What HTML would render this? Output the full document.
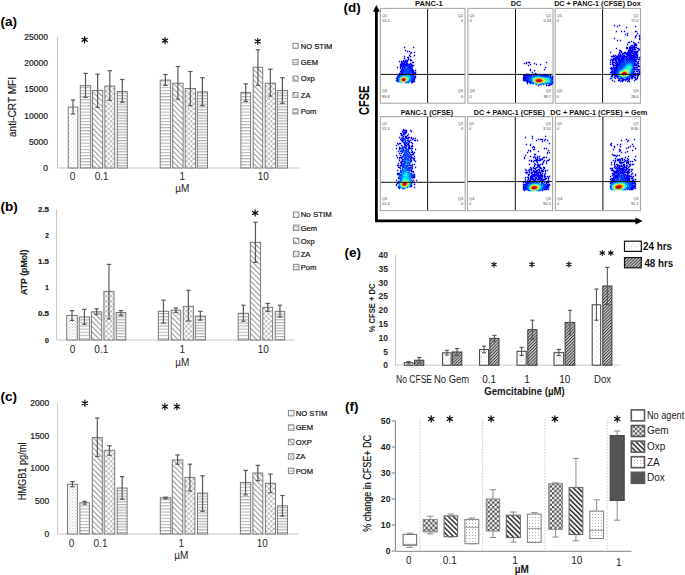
<!DOCTYPE html>
<html><head><meta charset="utf-8"><style>
html,body{margin:0;padding:0;background:#fff;}
svg{display:block;}
text{font-family:"Liberation Sans", sans-serif;}
</style></head><body>
<svg width="685" height="575" viewBox="0 0 685 575">
<rect width="685" height="575" fill="#fff"/>

<defs>
 <pattern id="pdot" width="4" height="4" patternUnits="userSpaceOnUse">
  <rect width="4" height="4" fill="#fff"/><rect x="1" y="1" width="1" height="1" fill="#d0d0d0"/><rect x="3" y="3" width="1" height="1" fill="#e0e0e0"/>
 </pattern>
 <pattern id="pmesh" width="3" height="3" patternUnits="userSpaceOnUse">
  <rect width="3" height="3" fill="#fff"/><rect x="0" y="0" width="1" height="1" fill="#c8c8c8"/><rect x="1.5" y="1.5" width="1" height="1" fill="#c8c8c8"/>
 </pattern>
 <pattern id="phs" width="4" height="3.1" patternUnits="userSpaceOnUse">
  <rect width="4" height="3.1" fill="#fff"/><rect x="0" y="0" width="4" height="1.1" fill="#b4b4b4"/>
 </pattern>
 <pattern id="phs2" width="4" height="2.8" patternUnits="userSpaceOnUse">
  <rect width="4" height="2.8" fill="#fff"/><rect x="0" y="0" width="4" height="1.2" fill="#b0b0b0"/>
 </pattern>
 <pattern id="pdiag" width="3.7" height="3.7" patternUnits="userSpaceOnUse" patternTransform="rotate(-45)">
  <rect width="3.7" height="3.7" fill="#fff"/><rect x="0" y="0" width="1.1" height="3.7" fill="#9a9a9a"/>
 </pattern>
 <pattern id="pchk" width="5" height="5" patternUnits="userSpaceOnUse">
  <rect width="5" height="5" fill="#fff"/><rect x="0" y="0" width="2.5" height="2.5" fill="#c4c4c4"/><rect x="2.5" y="2.5" width="2.5" height="2.5" fill="#c4c4c4"/>
 </pattern>
 <pattern id="pe24" width="5" height="5" patternUnits="userSpaceOnUse">
  <rect width="5" height="5" fill="#fff"/><rect x="1" y="1" width="1" height="1" fill="#c8c8c8"/><rect x="3.5" y="3.5" width="1" height="1" fill="#d8d8d8"/>
 </pattern>
 <pattern id="pe48" width="2.2" height="2.2" patternUnits="userSpaceOnUse" patternTransform="rotate(45)">
  <rect width="2.2" height="2.2" fill="#d0d0d0"/><rect x="0" y="0" width="0.95" height="2.2" fill="#383838"/>
 </pattern>
 <pattern id="pfgem" width="4.6" height="4.6" patternUnits="userSpaceOnUse">
  <rect width="4.6" height="4.6" fill="#fff"/><rect x="0" y="0" width="2.3" height="2.3" fill="#505050"/><rect x="2.3" y="2.3" width="2.3" height="2.3" fill="#505050"/>
 </pattern>
 <pattern id="pfoxp" width="3.5" height="3.5" patternUnits="userSpaceOnUse" patternTransform="rotate(-45)">
  <rect width="3.5" height="3.5" fill="#fff"/><rect x="0" y="0" width="1.5" height="3.5" fill="#2a2a2a"/>
 </pattern>
 <pattern id="pfza" width="3" height="3" patternUnits="userSpaceOnUse">
  <rect width="3" height="3" fill="#fff"/><rect x="1" y="1" width="1" height="1" fill="#b0b0b0"/>
 </pattern>
</defs>

<line x1="57.50" y1="36.80" x2="57.50" y2="168.00" stroke="#c6c6c6" stroke-width="1"/><line x1="57.50" y1="168.00" x2="299.00" y2="168.00" stroke="#c6c6c6" stroke-width="1"/><text x="48.00" y="171.00" font-size="8.5" text-anchor="end" fill="#1a1a1a" stroke="#1a1a1a" stroke-width="0.2">0</text><text x="48.00" y="144.76" font-size="8.5" text-anchor="end" fill="#1a1a1a" stroke="#1a1a1a" stroke-width="0.2">5000</text><text x="48.00" y="118.52" font-size="8.5" text-anchor="end" fill="#1a1a1a" stroke="#1a1a1a" stroke-width="0.2">10000</text><text x="48.00" y="92.28" font-size="8.5" text-anchor="end" fill="#1a1a1a" stroke="#1a1a1a" stroke-width="0.2">15000</text><text x="48.00" y="66.04" font-size="8.5" text-anchor="end" fill="#1a1a1a" stroke="#1a1a1a" stroke-width="0.2">20000</text><text x="48.00" y="39.80" font-size="8.5" text-anchor="end" fill="#1a1a1a" stroke="#1a1a1a" stroke-width="0.2">25000</text><rect x="68.20" y="107.10" width="9.60" height="60.90" fill="url(#pdot)" stroke="#7a7a7a" stroke-width="1"/><rect x="80.30" y="85.70" width="10.40" height="82.30" fill="url(#phs)" stroke="#7a7a7a" stroke-width="1"/><rect x="92.50" y="90.40" width="10.20" height="77.60" fill="url(#pdiag)" stroke="#7a7a7a" stroke-width="1"/><rect x="104.90" y="86.00" width="9.80" height="82.00" fill="url(#pchk)" stroke="#7a7a7a" stroke-width="1"/><rect x="117.30" y="91.50" width="10.00" height="76.50" fill="url(#phs2)" stroke="#7a7a7a" stroke-width="1"/><rect x="160.20" y="80.10" width="10.40" height="87.90" fill="url(#phs)" stroke="#7a7a7a" stroke-width="1"/><rect x="172.70" y="83.20" width="10.40" height="84.80" fill="url(#pdiag)" stroke="#7a7a7a" stroke-width="1"/><rect x="185.20" y="88.50" width="10.30" height="79.50" fill="url(#pchk)" stroke="#7a7a7a" stroke-width="1"/><rect x="197.30" y="91.90" width="10.20" height="76.10" fill="url(#phs2)" stroke="#7a7a7a" stroke-width="1"/><rect x="240.90" y="92.40" width="9.70" height="75.60" fill="url(#phs)" stroke="#7a7a7a" stroke-width="1"/><rect x="253.20" y="67.30" width="9.50" height="100.70" fill="url(#pdiag)" stroke="#7a7a7a" stroke-width="1"/><rect x="265.20" y="83.20" width="10.30" height="84.80" fill="url(#pchk)" stroke="#7a7a7a" stroke-width="1"/><rect x="277.30" y="90.50" width="10.20" height="77.50" fill="url(#phs2)" stroke="#7a7a7a" stroke-width="1"/><line x1="73.00" y1="100.00" x2="73.00" y2="113.90" stroke="#595959" stroke-width="1.2"/><line x1="70.80" y1="100.00" x2="75.20" y2="100.00" stroke="#595959" stroke-width="1.2"/><line x1="70.80" y1="113.90" x2="75.20" y2="113.90" stroke="#595959" stroke-width="1.2"/><line x1="85.50" y1="73.40" x2="85.50" y2="97.40" stroke="#595959" stroke-width="1.2"/><line x1="83.30" y1="73.40" x2="87.70" y2="73.40" stroke="#595959" stroke-width="1.2"/><line x1="83.30" y1="97.40" x2="87.70" y2="97.40" stroke="#595959" stroke-width="1.2"/><line x1="97.60" y1="74.20" x2="97.60" y2="107.30" stroke="#595959" stroke-width="1.2"/><line x1="95.40" y1="74.20" x2="99.80" y2="74.20" stroke="#595959" stroke-width="1.2"/><line x1="95.40" y1="107.30" x2="99.80" y2="107.30" stroke="#595959" stroke-width="1.2"/><line x1="109.80" y1="70.70" x2="109.80" y2="100.30" stroke="#595959" stroke-width="1.2"/><line x1="107.60" y1="70.70" x2="112.00" y2="70.70" stroke="#595959" stroke-width="1.2"/><line x1="107.60" y1="100.30" x2="112.00" y2="100.30" stroke="#595959" stroke-width="1.2"/><line x1="122.30" y1="79.50" x2="122.30" y2="102.20" stroke="#595959" stroke-width="1.2"/><line x1="120.10" y1="79.50" x2="124.50" y2="79.50" stroke="#595959" stroke-width="1.2"/><line x1="120.10" y1="102.20" x2="124.50" y2="102.20" stroke="#595959" stroke-width="1.2"/><line x1="165.40" y1="74.50" x2="165.40" y2="85.40" stroke="#595959" stroke-width="1.2"/><line x1="163.20" y1="74.50" x2="167.60" y2="74.50" stroke="#595959" stroke-width="1.2"/><line x1="163.20" y1="85.40" x2="167.60" y2="85.40" stroke="#595959" stroke-width="1.2"/><line x1="177.90" y1="66.50" x2="177.90" y2="99.20" stroke="#595959" stroke-width="1.2"/><line x1="175.70" y1="66.50" x2="180.10" y2="66.50" stroke="#595959" stroke-width="1.2"/><line x1="175.70" y1="99.20" x2="180.10" y2="99.20" stroke="#595959" stroke-width="1.2"/><line x1="190.35" y1="71.50" x2="190.35" y2="105.60" stroke="#595959" stroke-width="1.2"/><line x1="188.15" y1="71.50" x2="192.55" y2="71.50" stroke="#595959" stroke-width="1.2"/><line x1="188.15" y1="105.60" x2="192.55" y2="105.60" stroke="#595959" stroke-width="1.2"/><line x1="202.40" y1="77.70" x2="202.40" y2="105.60" stroke="#595959" stroke-width="1.2"/><line x1="200.20" y1="77.70" x2="204.60" y2="77.70" stroke="#595959" stroke-width="1.2"/><line x1="200.20" y1="105.60" x2="204.60" y2="105.60" stroke="#595959" stroke-width="1.2"/><line x1="245.75" y1="83.90" x2="245.75" y2="101.40" stroke="#595959" stroke-width="1.2"/><line x1="243.55" y1="83.90" x2="247.95" y2="83.90" stroke="#595959" stroke-width="1.2"/><line x1="243.55" y1="101.40" x2="247.95" y2="101.40" stroke="#595959" stroke-width="1.2"/><line x1="257.95" y1="49.80" x2="257.95" y2="85.30" stroke="#595959" stroke-width="1.2"/><line x1="255.75" y1="49.80" x2="260.15" y2="49.80" stroke="#595959" stroke-width="1.2"/><line x1="255.75" y1="85.30" x2="260.15" y2="85.30" stroke="#595959" stroke-width="1.2"/><line x1="270.35" y1="69.20" x2="270.35" y2="96.10" stroke="#595959" stroke-width="1.2"/><line x1="268.15" y1="69.20" x2="272.55" y2="69.20" stroke="#595959" stroke-width="1.2"/><line x1="268.15" y1="96.10" x2="272.55" y2="96.10" stroke="#595959" stroke-width="1.2"/><line x1="282.40" y1="77.70" x2="282.40" y2="103.30" stroke="#595959" stroke-width="1.2"/><line x1="280.20" y1="77.70" x2="284.60" y2="77.70" stroke="#595959" stroke-width="1.2"/><line x1="280.20" y1="103.30" x2="284.60" y2="103.30" stroke="#595959" stroke-width="1.2"/><path d="M84.60 42.90L84.60 36.70M81.92 41.35L87.28 38.25M87.28 41.35L81.92 38.25" stroke="#000" stroke-width="1.15" stroke-linecap="round" fill="none"/><path d="M165.00 43.70L165.00 37.50M162.32 42.15L167.68 39.05M167.68 42.15L162.32 39.05" stroke="#000" stroke-width="1.15" stroke-linecap="round" fill="none"/><path d="M257.80 44.50L257.80 38.30M255.12 42.95L260.48 39.85M260.48 42.95L255.12 39.85" stroke="#000" stroke-width="1.15" stroke-linecap="round" fill="none"/><text x="72.60" y="180.20" font-size="10" text-anchor="middle" fill="#262626">0</text><text x="101.70" y="180.20" font-size="10" text-anchor="middle" fill="#262626">0.1</text><text x="182.20" y="180.20" font-size="10" text-anchor="middle" fill="#262626">1</text><text x="263.20" y="180.20" font-size="10" text-anchor="middle" fill="#262626">10</text><text x="182.20" y="192.00" font-size="10" text-anchor="middle" fill="#262626">µM</text><text x="16.40" y="107.00" font-size="10" text-anchor="middle" fill="#1a1a1a" textLength="60.00" lengthAdjust="spacingAndGlyphs" transform="rotate(-90 16.40 107.00)" stroke="#1a1a1a" stroke-width="0.15">anti-CRT MFI</text><text x="0.50" y="25.80" font-size="13.5" text-anchor="start" fill="#000" font-weight="bold">(a)</text><rect x="293.00" y="43.30" width="5.00" height="5.00" fill="url(#pdot)" stroke="#8a8a8a" stroke-width="1"/><text x="300.80" y="48.54" font-size="7.6" text-anchor="start" fill="#111" textLength="31.50" lengthAdjust="spacingAndGlyphs" stroke="#111" stroke-width="0.2">NO STIM</text><rect x="293.00" y="59.70" width="5.00" height="5.00" fill="url(#phs)" stroke="#8a8a8a" stroke-width="1"/><text x="300.80" y="64.94" font-size="7.6" text-anchor="start" fill="#111" stroke="#111" stroke-width="0.2">GEM</text><rect x="293.00" y="76.10" width="5.00" height="5.00" fill="url(#pdiag)" stroke="#8a8a8a" stroke-width="1"/><text x="300.80" y="81.34" font-size="7.6" text-anchor="start" fill="#111" stroke="#111" stroke-width="0.2">Oxp</text><rect x="293.00" y="92.50" width="5.00" height="5.00" fill="url(#pchk)" stroke="#8a8a8a" stroke-width="1"/><text x="300.80" y="97.74" font-size="7.6" text-anchor="start" fill="#111" stroke="#111" stroke-width="0.2">ZA</text><rect x="293.00" y="108.90" width="5.00" height="5.00" fill="url(#phs2)" stroke="#8a8a8a" stroke-width="1"/><text x="300.80" y="114.14" font-size="7.6" text-anchor="start" fill="#111" stroke="#111" stroke-width="0.2">Pom</text><line x1="56.60" y1="209.40" x2="56.60" y2="340.00" stroke="#c6c6c6" stroke-width="1"/><line x1="56.60" y1="340.00" x2="294.50" y2="340.00" stroke="#c6c6c6" stroke-width="1"/><text x="49.00" y="342.50" font-size="7" text-anchor="end" fill="#1a1a1a" font-weight="bold" stroke="#1a1a1a" stroke-width="0.2">0</text><text x="49.00" y="316.38" font-size="7" text-anchor="end" fill="#1a1a1a" font-weight="bold" textLength="11.00" lengthAdjust="spacingAndGlyphs" stroke="#1a1a1a" stroke-width="0.2">0.5</text><text x="49.00" y="290.26" font-size="7" text-anchor="end" fill="#1a1a1a" font-weight="bold" stroke="#1a1a1a" stroke-width="0.2">1</text><text x="49.00" y="264.14" font-size="7" text-anchor="end" fill="#1a1a1a" font-weight="bold" textLength="11.00" lengthAdjust="spacingAndGlyphs" stroke="#1a1a1a" stroke-width="0.2">1.5</text><text x="49.00" y="238.02" font-size="7" text-anchor="end" fill="#1a1a1a" font-weight="bold" stroke="#1a1a1a" stroke-width="0.2">2</text><text x="49.00" y="211.90" font-size="7" text-anchor="end" fill="#1a1a1a" font-weight="bold" textLength="11.00" lengthAdjust="spacingAndGlyphs" stroke="#1a1a1a" stroke-width="0.2">2.5</text><rect x="66.70" y="315.50" width="10.60" height="24.50" fill="url(#pmesh)" stroke="#7a7a7a" stroke-width="1"/><rect x="79.20" y="317.00" width="10.40" height="23.00" fill="url(#phs)" stroke="#7a7a7a" stroke-width="1"/><rect x="91.40" y="311.80" width="10.30" height="28.20" fill="url(#pdiag)" stroke="#7a7a7a" stroke-width="1"/><rect x="103.90" y="291.40" width="10.10" height="48.60" fill="url(#pchk)" stroke="#7a7a7a" stroke-width="1"/><rect x="116.20" y="312.50" width="9.60" height="27.50" fill="url(#phs2)" stroke="#7a7a7a" stroke-width="1"/><rect x="158.30" y="311.30" width="10.30" height="28.70" fill="url(#phs)" stroke="#7a7a7a" stroke-width="1"/><rect x="171.20" y="310.20" width="9.50" height="29.80" fill="url(#pdiag)" stroke="#7a7a7a" stroke-width="1"/><rect x="183.30" y="306.30" width="10.10" height="33.70" fill="url(#pchk)" stroke="#7a7a7a" stroke-width="1"/><rect x="195.30" y="316.10" width="10.10" height="23.90" fill="url(#phs2)" stroke="#7a7a7a" stroke-width="1"/><rect x="238.20" y="313.30" width="10.30" height="26.70" fill="url(#phs)" stroke="#7a7a7a" stroke-width="1"/><rect x="250.30" y="242.30" width="10.30" height="97.70" fill="url(#pdiag)" stroke="#7a7a7a" stroke-width="1"/><rect x="262.80" y="307.40" width="9.80" height="32.60" fill="url(#pchk)" stroke="#7a7a7a" stroke-width="1"/><rect x="275.20" y="311.30" width="9.50" height="28.70" fill="url(#phs2)" stroke="#7a7a7a" stroke-width="1"/><line x1="72.00" y1="310.60" x2="72.00" y2="320.40" stroke="#595959" stroke-width="1.2"/><line x1="69.80" y1="310.60" x2="74.20" y2="310.60" stroke="#595959" stroke-width="1.2"/><line x1="69.80" y1="320.40" x2="74.20" y2="320.40" stroke="#595959" stroke-width="1.2"/><line x1="84.40" y1="309.30" x2="84.40" y2="324.30" stroke="#595959" stroke-width="1.2"/><line x1="82.20" y1="309.30" x2="86.60" y2="309.30" stroke="#595959" stroke-width="1.2"/><line x1="82.20" y1="324.30" x2="86.60" y2="324.30" stroke="#595959" stroke-width="1.2"/><line x1="96.55" y1="308.80" x2="96.55" y2="314.30" stroke="#595959" stroke-width="1.2"/><line x1="94.35" y1="308.80" x2="98.75" y2="308.80" stroke="#595959" stroke-width="1.2"/><line x1="94.35" y1="314.30" x2="98.75" y2="314.30" stroke="#595959" stroke-width="1.2"/><line x1="108.95" y1="264.40" x2="108.95" y2="318.90" stroke="#595959" stroke-width="1.2"/><line x1="106.75" y1="264.40" x2="111.15" y2="264.40" stroke="#595959" stroke-width="1.2"/><line x1="106.75" y1="318.90" x2="111.15" y2="318.90" stroke="#595959" stroke-width="1.2"/><line x1="121.00" y1="310.60" x2="121.00" y2="315.50" stroke="#595959" stroke-width="1.2"/><line x1="118.80" y1="310.60" x2="123.20" y2="310.60" stroke="#595959" stroke-width="1.2"/><line x1="118.80" y1="315.50" x2="123.20" y2="315.50" stroke="#595959" stroke-width="1.2"/><line x1="163.45" y1="300.10" x2="163.45" y2="323.10" stroke="#595959" stroke-width="1.2"/><line x1="161.25" y1="300.10" x2="165.65" y2="300.10" stroke="#595959" stroke-width="1.2"/><line x1="161.25" y1="323.10" x2="165.65" y2="323.10" stroke="#595959" stroke-width="1.2"/><line x1="175.95" y1="308.00" x2="175.95" y2="312.40" stroke="#595959" stroke-width="1.2"/><line x1="173.75" y1="308.00" x2="178.15" y2="308.00" stroke="#595959" stroke-width="1.2"/><line x1="173.75" y1="312.40" x2="178.15" y2="312.40" stroke="#595959" stroke-width="1.2"/><line x1="188.35" y1="290.30" x2="188.35" y2="321.00" stroke="#595959" stroke-width="1.2"/><line x1="186.15" y1="290.30" x2="190.55" y2="290.30" stroke="#595959" stroke-width="1.2"/><line x1="186.15" y1="321.00" x2="190.55" y2="321.00" stroke="#595959" stroke-width="1.2"/><line x1="200.35" y1="311.30" x2="200.35" y2="320.10" stroke="#595959" stroke-width="1.2"/><line x1="198.15" y1="311.30" x2="202.55" y2="311.30" stroke="#595959" stroke-width="1.2"/><line x1="198.15" y1="320.10" x2="202.55" y2="320.10" stroke="#595959" stroke-width="1.2"/><line x1="243.35" y1="305.20" x2="243.35" y2="321.20" stroke="#595959" stroke-width="1.2"/><line x1="241.15" y1="305.20" x2="245.55" y2="305.20" stroke="#595959" stroke-width="1.2"/><line x1="241.15" y1="321.20" x2="245.55" y2="321.20" stroke="#595959" stroke-width="1.2"/><line x1="255.45" y1="222.30" x2="255.45" y2="262.40" stroke="#595959" stroke-width="1.2"/><line x1="253.25" y1="222.30" x2="257.65" y2="222.30" stroke="#595959" stroke-width="1.2"/><line x1="253.25" y1="262.40" x2="257.65" y2="262.40" stroke="#595959" stroke-width="1.2"/><line x1="267.70" y1="303.40" x2="267.70" y2="311.30" stroke="#595959" stroke-width="1.2"/><line x1="265.50" y1="303.40" x2="269.90" y2="303.40" stroke="#595959" stroke-width="1.2"/><line x1="265.50" y1="311.30" x2="269.90" y2="311.30" stroke="#595959" stroke-width="1.2"/><line x1="279.95" y1="305.20" x2="279.95" y2="316.80" stroke="#595959" stroke-width="1.2"/><line x1="277.75" y1="305.20" x2="282.15" y2="305.20" stroke="#595959" stroke-width="1.2"/><line x1="277.75" y1="316.80" x2="282.15" y2="316.80" stroke="#595959" stroke-width="1.2"/><path d="M255.10 216.10L255.10 209.90M252.42 214.55L257.78 211.45M257.78 214.55L252.42 211.45" stroke="#000" stroke-width="1.15" stroke-linecap="round" fill="none"/><text x="72.50" y="353.40" font-size="10" text-anchor="middle" fill="#262626">0</text><text x="101.30" y="353.40" font-size="10" text-anchor="middle" fill="#262626">0.1</text><text x="182.20" y="353.40" font-size="10" text-anchor="middle" fill="#262626">1</text><text x="263.20" y="353.40" font-size="10" text-anchor="middle" fill="#262626">10</text><text x="182.20" y="365.80" font-size="10" text-anchor="middle" fill="#262626">µM</text><text x="27.30" y="272.30" font-size="9" text-anchor="middle" fill="#1a1a1a" font-weight="bold" textLength="45.30" lengthAdjust="spacingAndGlyphs" transform="rotate(-90 27.30 272.30)" stroke="#1a1a1a" stroke-width="0.15">ATP (pMol)</text><text x="0.50" y="211.30" font-size="13.5" text-anchor="start" fill="#000" font-weight="bold">(b)</text><rect x="293.40" y="211.95" width="5.50" height="5.50" fill="url(#pmesh)" stroke="#8a8a8a" stroke-width="1"/><text x="300.70" y="217.44" font-size="7.6" text-anchor="start" fill="#111" textLength="31.00" lengthAdjust="spacingAndGlyphs" stroke="#111" stroke-width="0.2">No STIM</text><rect x="293.40" y="225.05" width="5.50" height="5.50" fill="url(#phs)" stroke="#8a8a8a" stroke-width="1"/><text x="300.70" y="230.54" font-size="7.6" text-anchor="start" fill="#111" stroke="#111" stroke-width="0.2">Gem</text><rect x="293.40" y="238.15" width="5.50" height="5.50" fill="url(#pdiag)" stroke="#8a8a8a" stroke-width="1"/><text x="300.70" y="243.64" font-size="7.6" text-anchor="start" fill="#111" stroke="#111" stroke-width="0.2">Oxp</text><rect x="293.40" y="251.25" width="5.50" height="5.50" fill="url(#pchk)" stroke="#8a8a8a" stroke-width="1"/><text x="300.70" y="256.74" font-size="7.6" text-anchor="start" fill="#111" stroke="#111" stroke-width="0.2">ZA</text><rect x="293.40" y="264.35" width="5.50" height="5.50" fill="url(#phs2)" stroke="#8a8a8a" stroke-width="1"/><text x="300.70" y="269.84" font-size="7.6" text-anchor="start" fill="#111" stroke="#111" stroke-width="0.2">Pom</text><line x1="57.60" y1="402.90" x2="57.60" y2="534.00" stroke="#c6c6c6" stroke-width="1"/><line x1="57.60" y1="534.00" x2="298.50" y2="534.00" stroke="#c6c6c6" stroke-width="1"/><text x="49.20" y="537.00" font-size="8.5" text-anchor="end" fill="#1a1a1a" stroke="#1a1a1a" stroke-width="0.2">0</text><text x="49.20" y="504.23" font-size="8.5" text-anchor="end" fill="#1a1a1a" stroke="#1a1a1a" stroke-width="0.2">500</text><text x="49.20" y="471.45" font-size="8.5" text-anchor="end" fill="#1a1a1a" stroke="#1a1a1a" stroke-width="0.2">1000</text><text x="49.20" y="438.67" font-size="8.5" text-anchor="end" fill="#1a1a1a" stroke="#1a1a1a" stroke-width="0.2">1500</text><text x="49.20" y="405.90" font-size="8.5" text-anchor="end" fill="#1a1a1a" stroke="#1a1a1a" stroke-width="0.2">2000</text><rect x="67.50" y="484.30" width="9.90" height="49.70" fill="url(#pmesh)" stroke="#7a7a7a" stroke-width="1"/><rect x="79.90" y="502.70" width="9.50" height="31.30" fill="url(#phs)" stroke="#7a7a7a" stroke-width="1"/><rect x="92.30" y="437.60" width="10.00" height="96.40" fill="url(#pdiag)" stroke="#7a7a7a" stroke-width="1"/><rect x="104.20" y="450.30" width="10.50" height="83.70" fill="url(#pchk)" stroke="#7a7a7a" stroke-width="1"/><rect x="117.20" y="488.00" width="9.90" height="46.00" fill="url(#phs2)" stroke="#7a7a7a" stroke-width="1"/><rect x="160.30" y="497.70" width="10.50" height="36.30" fill="url(#phs)" stroke="#7a7a7a" stroke-width="1"/><rect x="172.30" y="459.90" width="10.50" height="74.10" fill="url(#pdiag)" stroke="#7a7a7a" stroke-width="1"/><rect x="185.00" y="477.40" width="9.90" height="56.60" fill="url(#pchk)" stroke="#7a7a7a" stroke-width="1"/><rect x="197.50" y="493.10" width="10.10" height="40.90" fill="url(#phs2)" stroke="#7a7a7a" stroke-width="1"/><rect x="240.40" y="482.40" width="10.30" height="51.60" fill="url(#phs)" stroke="#7a7a7a" stroke-width="1"/><rect x="252.90" y="473.00" width="9.90" height="61.00" fill="url(#pdiag)" stroke="#7a7a7a" stroke-width="1"/><rect x="265.40" y="483.30" width="10.10" height="50.70" fill="url(#pchk)" stroke="#7a7a7a" stroke-width="1"/><rect x="277.40" y="505.80" width="10.10" height="28.20" fill="url(#phs2)" stroke="#7a7a7a" stroke-width="1"/><line x1="72.45" y1="481.60" x2="72.45" y2="486.80" stroke="#595959" stroke-width="1.2"/><line x1="70.25" y1="481.60" x2="74.65" y2="481.60" stroke="#595959" stroke-width="1.2"/><line x1="70.25" y1="486.80" x2="74.65" y2="486.80" stroke="#595959" stroke-width="1.2"/><line x1="84.65" y1="501.40" x2="84.65" y2="504.20" stroke="#595959" stroke-width="1.2"/><line x1="82.45" y1="501.40" x2="86.85" y2="501.40" stroke="#595959" stroke-width="1.2"/><line x1="82.45" y1="504.20" x2="86.85" y2="504.20" stroke="#595959" stroke-width="1.2"/><line x1="97.30" y1="418.00" x2="97.30" y2="456.50" stroke="#595959" stroke-width="1.2"/><line x1="95.10" y1="418.00" x2="99.50" y2="418.00" stroke="#595959" stroke-width="1.2"/><line x1="95.10" y1="456.50" x2="99.50" y2="456.50" stroke="#595959" stroke-width="1.2"/><line x1="109.45" y1="445.80" x2="109.45" y2="455.20" stroke="#595959" stroke-width="1.2"/><line x1="107.25" y1="445.80" x2="111.65" y2="445.80" stroke="#595959" stroke-width="1.2"/><line x1="107.25" y1="455.20" x2="111.65" y2="455.20" stroke="#595959" stroke-width="1.2"/><line x1="122.15" y1="476.60" x2="122.15" y2="499.20" stroke="#595959" stroke-width="1.2"/><line x1="119.95" y1="476.60" x2="124.35" y2="476.60" stroke="#595959" stroke-width="1.2"/><line x1="119.95" y1="499.20" x2="124.35" y2="499.20" stroke="#595959" stroke-width="1.2"/><line x1="165.55" y1="497.10" x2="165.55" y2="498.60" stroke="#595959" stroke-width="1.2"/><line x1="163.35" y1="497.10" x2="167.75" y2="497.10" stroke="#595959" stroke-width="1.2"/><line x1="163.35" y1="498.60" x2="167.75" y2="498.60" stroke="#595959" stroke-width="1.2"/><line x1="177.55" y1="455.00" x2="177.55" y2="464.20" stroke="#595959" stroke-width="1.2"/><line x1="175.35" y1="455.00" x2="179.75" y2="455.00" stroke="#595959" stroke-width="1.2"/><line x1="175.35" y1="464.20" x2="179.75" y2="464.20" stroke="#595959" stroke-width="1.2"/><line x1="189.95" y1="464.20" x2="189.95" y2="491.00" stroke="#595959" stroke-width="1.2"/><line x1="187.75" y1="464.20" x2="192.15" y2="464.20" stroke="#595959" stroke-width="1.2"/><line x1="187.75" y1="491.00" x2="192.15" y2="491.00" stroke="#595959" stroke-width="1.2"/><line x1="202.55" y1="475.80" x2="202.55" y2="511.30" stroke="#595959" stroke-width="1.2"/><line x1="200.35" y1="475.80" x2="204.75" y2="475.80" stroke="#595959" stroke-width="1.2"/><line x1="200.35" y1="511.30" x2="204.75" y2="511.30" stroke="#595959" stroke-width="1.2"/><line x1="245.55" y1="470.40" x2="245.55" y2="494.90" stroke="#595959" stroke-width="1.2"/><line x1="243.35" y1="470.40" x2="247.75" y2="470.40" stroke="#595959" stroke-width="1.2"/><line x1="243.35" y1="494.90" x2="247.75" y2="494.90" stroke="#595959" stroke-width="1.2"/><line x1="257.85" y1="465.30" x2="257.85" y2="480.70" stroke="#595959" stroke-width="1.2"/><line x1="255.65" y1="465.30" x2="260.05" y2="465.30" stroke="#595959" stroke-width="1.2"/><line x1="255.65" y1="480.70" x2="260.05" y2="480.70" stroke="#595959" stroke-width="1.2"/><line x1="270.45" y1="474.10" x2="270.45" y2="492.70" stroke="#595959" stroke-width="1.2"/><line x1="268.25" y1="474.10" x2="272.65" y2="474.10" stroke="#595959" stroke-width="1.2"/><line x1="268.25" y1="492.70" x2="272.65" y2="492.70" stroke="#595959" stroke-width="1.2"/><line x1="282.45" y1="495.50" x2="282.45" y2="516.10" stroke="#595959" stroke-width="1.2"/><line x1="280.25" y1="495.50" x2="284.65" y2="495.50" stroke="#595959" stroke-width="1.2"/><line x1="280.25" y1="516.10" x2="284.65" y2="516.10" stroke="#595959" stroke-width="1.2"/><path d="M84.90 406.30L84.90 400.10M82.22 404.75L87.58 401.65M87.58 404.75L82.22 401.65" stroke="#000" stroke-width="1.15" stroke-linecap="round" fill="none"/><path d="M164.90 409.70L164.90 403.50M162.22 408.15L167.58 405.05M167.58 408.15L162.22 405.05" stroke="#000" stroke-width="1.15" stroke-linecap="round" fill="none"/><path d="M176.90 409.70L176.90 403.50M174.22 408.15L179.58 405.05M179.58 408.15L174.22 405.05" stroke="#000" stroke-width="1.15" stroke-linecap="round" fill="none"/><text x="71.50" y="546.60" font-size="10" text-anchor="middle" fill="#262626">0</text><text x="100.50" y="546.60" font-size="10" text-anchor="middle" fill="#262626">0.1</text><text x="181.30" y="546.60" font-size="10" text-anchor="middle" fill="#262626">1</text><text x="262.30" y="546.60" font-size="10" text-anchor="middle" fill="#262626">10</text><text x="181.30" y="559.30" font-size="10" text-anchor="middle" fill="#262626">µM</text><text x="26.00" y="471.40" font-size="10" text-anchor="middle" fill="#1a1a1a" textLength="57.80" lengthAdjust="spacingAndGlyphs" transform="rotate(-90 26.00 471.40)" stroke="#1a1a1a" stroke-width="0.15">HMGB1 pg/ml</text><text x="0.50" y="401.30" font-size="13.5" text-anchor="start" fill="#000" font-weight="bold">(c)</text><rect x="288.40" y="410.35" width="5.50" height="5.50" fill="url(#pmesh)" stroke="#8a8a8a" stroke-width="1"/><text x="295.70" y="415.84" font-size="7.6" text-anchor="start" fill="#111" textLength="31.60" lengthAdjust="spacingAndGlyphs" stroke="#111" stroke-width="0.2">NO STIM</text><rect x="288.40" y="424.80" width="5.50" height="5.50" fill="url(#phs)" stroke="#8a8a8a" stroke-width="1"/><text x="295.70" y="430.29" font-size="7.6" text-anchor="start" fill="#111" stroke="#111" stroke-width="0.2">GEM</text><rect x="288.40" y="439.25" width="5.50" height="5.50" fill="url(#pdiag)" stroke="#8a8a8a" stroke-width="1"/><text x="295.70" y="444.74" font-size="7.6" text-anchor="start" fill="#111" stroke="#111" stroke-width="0.2">OXP</text><rect x="288.40" y="453.70" width="5.50" height="5.50" fill="url(#pchk)" stroke="#8a8a8a" stroke-width="1"/><text x="295.70" y="459.19" font-size="7.6" text-anchor="start" fill="#111" stroke="#111" stroke-width="0.2">ZA</text><rect x="288.40" y="468.15" width="5.50" height="5.50" fill="url(#phs2)" stroke="#8a8a8a" stroke-width="1"/><text x="295.70" y="473.64" font-size="7.6" text-anchor="start" fill="#111" stroke="#111" stroke-width="0.2">POM</text><line x1="395.60" y1="254.80" x2="395.60" y2="365.20" stroke="#c6c6c6" stroke-width="1"/><line x1="395.60" y1="365.20" x2="620.20" y2="365.20" stroke="#d4d4d4" stroke-width="1.2"/><text x="388.00" y="368.30" font-size="8.5" text-anchor="end" fill="#262626" font-weight="bold">0</text><text x="388.00" y="354.50" font-size="8.5" text-anchor="end" fill="#262626" font-weight="bold">5</text><text x="388.00" y="340.70" font-size="8.5" text-anchor="end" fill="#262626" font-weight="bold">10</text><text x="388.00" y="326.90" font-size="8.5" text-anchor="end" fill="#262626" font-weight="bold">15</text><text x="388.00" y="313.10" font-size="8.5" text-anchor="end" fill="#262626" font-weight="bold">20</text><text x="388.00" y="299.30" font-size="8.5" text-anchor="end" fill="#262626" font-weight="bold">25</text><text x="388.00" y="285.50" font-size="8.5" text-anchor="end" fill="#262626" font-weight="bold">30</text><text x="388.00" y="271.70" font-size="8.5" text-anchor="end" fill="#262626" font-weight="bold">35</text><text x="388.00" y="257.90" font-size="8.5" text-anchor="end" fill="#262626" font-weight="bold">40</text><rect x="404.20" y="362.70" width="8.70" height="2.50" fill="url(#pe24)" stroke="#3a3a3a" stroke-width="1"/><rect x="414.60" y="360.20" width="9.20" height="5.00" fill="url(#pe48)" stroke="#3a3a3a" stroke-width="1"/><rect x="442.60" y="352.80" width="8.50" height="12.40" fill="url(#pe24)" stroke="#3a3a3a" stroke-width="1"/><rect x="452.30" y="352.00" width="9.50" height="13.20" fill="url(#pe48)" stroke="#3a3a3a" stroke-width="1"/><rect x="479.60" y="349.60" width="9.00" height="15.60" fill="url(#pe24)" stroke="#3a3a3a" stroke-width="1"/><rect x="489.80" y="338.40" width="9.20" height="26.80" fill="url(#pe48)" stroke="#3a3a3a" stroke-width="1"/><rect x="517.00" y="351.30" width="9.20" height="13.90" fill="url(#pe24)" stroke="#3a3a3a" stroke-width="1"/><rect x="527.80" y="329.70" width="9.20" height="35.50" fill="url(#pe48)" stroke="#3a3a3a" stroke-width="1"/><rect x="554.00" y="352.70" width="9.70" height="12.50" fill="url(#pe24)" stroke="#3a3a3a" stroke-width="1"/><rect x="565.10" y="322.40" width="9.70" height="42.80" fill="url(#pe48)" stroke="#3a3a3a" stroke-width="1"/><rect x="592.20" y="304.80" width="8.50" height="60.40" fill="url(#pe24)" stroke="#3a3a3a" stroke-width="1"/><rect x="602.80" y="286.00" width="9.10" height="79.20" fill="url(#pe48)" stroke="#3a3a3a" stroke-width="1"/><line x1="408.55" y1="361.50" x2="408.55" y2="363.90" stroke="#555" stroke-width="1.1"/><line x1="406.45" y1="361.50" x2="410.65" y2="361.50" stroke="#555" stroke-width="1.1"/><line x1="406.45" y1="363.90" x2="410.65" y2="363.90" stroke="#555" stroke-width="1.1"/><line x1="419.20" y1="357.50" x2="419.20" y2="362.90" stroke="#555" stroke-width="1.1"/><line x1="417.10" y1="357.50" x2="421.30" y2="357.50" stroke="#555" stroke-width="1.1"/><line x1="417.10" y1="362.90" x2="421.30" y2="362.90" stroke="#555" stroke-width="1.1"/><line x1="446.85" y1="350.30" x2="446.85" y2="355.00" stroke="#555" stroke-width="1.1"/><line x1="444.75" y1="350.30" x2="448.95" y2="350.30" stroke="#555" stroke-width="1.1"/><line x1="444.75" y1="355.00" x2="448.95" y2="355.00" stroke="#555" stroke-width="1.1"/><line x1="457.05" y1="348.60" x2="457.05" y2="355.40" stroke="#555" stroke-width="1.1"/><line x1="454.95" y1="348.60" x2="459.15" y2="348.60" stroke="#555" stroke-width="1.1"/><line x1="454.95" y1="355.40" x2="459.15" y2="355.40" stroke="#555" stroke-width="1.1"/><line x1="484.10" y1="346.10" x2="484.10" y2="352.80" stroke="#555" stroke-width="1.1"/><line x1="482.00" y1="346.10" x2="486.20" y2="346.10" stroke="#555" stroke-width="1.1"/><line x1="482.00" y1="352.80" x2="486.20" y2="352.80" stroke="#555" stroke-width="1.1"/><line x1="494.40" y1="335.40" x2="494.40" y2="341.40" stroke="#555" stroke-width="1.1"/><line x1="492.30" y1="335.40" x2="496.50" y2="335.40" stroke="#555" stroke-width="1.1"/><line x1="492.30" y1="341.40" x2="496.50" y2="341.40" stroke="#555" stroke-width="1.1"/><line x1="521.60" y1="347.30" x2="521.60" y2="355.40" stroke="#555" stroke-width="1.1"/><line x1="519.50" y1="347.30" x2="523.70" y2="347.30" stroke="#555" stroke-width="1.1"/><line x1="519.50" y1="355.40" x2="523.70" y2="355.40" stroke="#555" stroke-width="1.1"/><line x1="532.40" y1="320.20" x2="532.40" y2="339.10" stroke="#555" stroke-width="1.1"/><line x1="530.30" y1="320.20" x2="534.50" y2="320.20" stroke="#555" stroke-width="1.1"/><line x1="530.30" y1="339.10" x2="534.50" y2="339.10" stroke="#555" stroke-width="1.1"/><line x1="558.85" y1="349.40" x2="558.85" y2="355.60" stroke="#555" stroke-width="1.1"/><line x1="556.75" y1="349.40" x2="560.95" y2="349.40" stroke="#555" stroke-width="1.1"/><line x1="556.75" y1="355.60" x2="560.95" y2="355.60" stroke="#555" stroke-width="1.1"/><line x1="569.95" y1="310.30" x2="569.95" y2="334.60" stroke="#555" stroke-width="1.1"/><line x1="567.85" y1="310.30" x2="572.05" y2="310.30" stroke="#555" stroke-width="1.1"/><line x1="567.85" y1="334.60" x2="572.05" y2="334.60" stroke="#555" stroke-width="1.1"/><line x1="596.45" y1="289.00" x2="596.45" y2="320.20" stroke="#555" stroke-width="1.1"/><line x1="594.35" y1="289.00" x2="598.55" y2="289.00" stroke="#555" stroke-width="1.1"/><line x1="594.35" y1="320.20" x2="598.55" y2="320.20" stroke="#555" stroke-width="1.1"/><line x1="607.35" y1="267.40" x2="607.35" y2="304.60" stroke="#555" stroke-width="1.1"/><line x1="605.25" y1="267.40" x2="609.45" y2="267.40" stroke="#555" stroke-width="1.1"/><line x1="605.25" y1="304.60" x2="609.45" y2="304.60" stroke="#555" stroke-width="1.1"/><path d="M494.00 267.20L494.00 262.00M491.75 265.90L496.25 263.30M496.25 265.90L491.75 263.30" stroke="#000" stroke-width="1.05" stroke-linecap="round" fill="none"/><path d="M531.90 267.00L531.90 261.80M529.65 265.70L534.15 263.10M534.15 265.70L529.65 263.10" stroke="#000" stroke-width="1.05" stroke-linecap="round" fill="none"/><path d="M568.90 267.00L568.90 261.80M566.65 265.70L571.15 263.10M571.15 265.70L566.65 263.10" stroke="#000" stroke-width="1.05" stroke-linecap="round" fill="none"/><path d="M602.30 255.60L602.30 250.40M600.05 254.30L604.55 251.70M604.55 254.30L600.05 251.70" stroke="#000" stroke-width="1.05" stroke-linecap="round" fill="none"/><path d="M610.80 255.60L610.80 250.40M608.55 254.30L613.05 251.70M613.05 254.30L608.55 251.70" stroke="#000" stroke-width="1.05" stroke-linecap="round" fill="none"/><text x="414.00" y="383.00" font-size="10" text-anchor="middle" fill="#1a1a1a" textLength="36.00" lengthAdjust="spacingAndGlyphs">No CFSE</text><text x="451.60" y="383.00" font-size="10" text-anchor="middle" fill="#1a1a1a" textLength="35.20" lengthAdjust="spacingAndGlyphs">No Gem</text><text x="489.10" y="383.00" font-size="10" text-anchor="middle" fill="#1a1a1a">0.1</text><text x="527.00" y="383.00" font-size="10" text-anchor="middle" fill="#1a1a1a">1</text><text x="564.80" y="383.00" font-size="10" text-anchor="middle" fill="#1a1a1a">10</text><text x="602.60" y="383.00" font-size="10" text-anchor="middle" fill="#1a1a1a" textLength="17.00" lengthAdjust="spacingAndGlyphs">Dox</text><text x="524.50" y="395.40" font-size="10" text-anchor="middle" fill="#1a1a1a" font-weight="bold" textLength="80.50" lengthAdjust="spacingAndGlyphs">Gemcitabine (µM)</text><text x="374.60" y="307.90" font-size="9.5" text-anchor="middle" fill="#1a1a1a" font-weight="bold" textLength="48.70" lengthAdjust="spacingAndGlyphs" transform="rotate(-90 374.60 307.90)">% CFSE + DC</text><text x="344.50" y="256.50" font-size="13.5" text-anchor="start" fill="#000" font-weight="bold">(e)</text><rect x="624.50" y="241.20" width="16.80" height="10.20" fill="url(#pe24)" stroke="#111" stroke-width="1.2"/><rect x="624.50" y="257.60" width="16.80" height="10.20" fill="url(#pe48)" stroke="#111" stroke-width="1.2"/><text x="643.00" y="249.70" font-size="11" text-anchor="start" fill="#111" font-weight="bold" textLength="29.00" lengthAdjust="spacingAndGlyphs">24 hrs</text><text x="644.40" y="267.40" font-size="11" text-anchor="start" fill="#111" font-weight="bold" textLength="28.70" lengthAdjust="spacingAndGlyphs">48 hrs</text><line x1="395.40" y1="421.00" x2="395.40" y2="551.00" stroke="#8a8a8a" stroke-width="1.1"/><line x1="395.40" y1="551.40" x2="631.50" y2="551.40" stroke="#9a9a9a" stroke-width="1.4"/><line x1="391.80" y1="551.00" x2="395.40" y2="551.00" stroke="#8a8a8a" stroke-width="1.1"/><text x="390.50" y="554.10" font-size="8.7" text-anchor="end" fill="#1a1a1a" font-weight="bold">0</text><line x1="391.80" y1="525.00" x2="395.40" y2="525.00" stroke="#8a8a8a" stroke-width="1.1"/><text x="390.50" y="528.10" font-size="8.7" text-anchor="end" fill="#1a1a1a" font-weight="bold">10</text><line x1="391.80" y1="499.00" x2="395.40" y2="499.00" stroke="#8a8a8a" stroke-width="1.1"/><text x="390.50" y="502.10" font-size="8.7" text-anchor="end" fill="#1a1a1a" font-weight="bold">20</text><line x1="391.80" y1="473.00" x2="395.40" y2="473.00" stroke="#8a8a8a" stroke-width="1.1"/><text x="390.50" y="476.10" font-size="8.7" text-anchor="end" fill="#1a1a1a" font-weight="bold">30</text><line x1="391.80" y1="447.00" x2="395.40" y2="447.00" stroke="#8a8a8a" stroke-width="1.1"/><text x="390.50" y="450.10" font-size="8.7" text-anchor="end" fill="#1a1a1a" font-weight="bold">40</text><line x1="391.80" y1="421.00" x2="395.40" y2="421.00" stroke="#8a8a8a" stroke-width="1.1"/><text x="390.50" y="424.10" font-size="8.7" text-anchor="end" fill="#1a1a1a" font-weight="bold">50</text><line x1="420.00" y1="419.00" x2="420.00" y2="551.00" stroke="#bdbdbd" stroke-width="0.8" stroke-dasharray="1.5 1.5"/><line x1="482.60" y1="419.00" x2="482.60" y2="551.00" stroke="#bdbdbd" stroke-width="0.8" stroke-dasharray="1.5 1.5"/><line x1="545.00" y1="419.00" x2="545.00" y2="551.00" stroke="#bdbdbd" stroke-width="0.8" stroke-dasharray="1.5 1.5"/><line x1="607.10" y1="419.00" x2="607.10" y2="551.00" stroke="#bdbdbd" stroke-width="0.8" stroke-dasharray="1.5 1.5"/><line x1="409.85" y1="533.20" x2="409.85" y2="534.40" stroke="#8c8c8c" stroke-width="1.0"/><line x1="409.85" y1="545.30" x2="409.85" y2="547.40" stroke="#8c8c8c" stroke-width="1.0"/><line x1="406.65" y1="533.20" x2="413.05" y2="533.20" stroke="#8c8c8c" stroke-width="1.0"/><line x1="406.65" y1="547.40" x2="413.05" y2="547.40" stroke="#8c8c8c" stroke-width="1.0"/><rect x="403.10" y="534.40" width="13.50" height="10.90" fill="#fff" stroke="#777" stroke-width="1.1"/><line x1="403.10" y1="544.40" x2="416.60" y2="544.40" stroke="#888" stroke-width="0.9"/><line x1="430.20" y1="516.20" x2="430.20" y2="519.50" stroke="#8c8c8c" stroke-width="1.0"/><line x1="430.20" y1="531.90" x2="430.20" y2="533.80" stroke="#8c8c8c" stroke-width="1.0"/><line x1="427.00" y1="516.20" x2="433.40" y2="516.20" stroke="#8c8c8c" stroke-width="1.0"/><line x1="427.00" y1="533.80" x2="433.40" y2="533.80" stroke="#8c8c8c" stroke-width="1.0"/><rect x="423.20" y="519.50" width="14.00" height="12.40" fill="url(#pfgem)" stroke="#8a8a8a" stroke-width="1.1"/><line x1="423.20" y1="529.90" x2="437.20" y2="529.90" stroke="#888" stroke-width="0.9"/><line x1="450.85" y1="514.00" x2="450.85" y2="515.90" stroke="#8c8c8c" stroke-width="1.0"/><line x1="450.85" y1="536.60" x2="450.85" y2="537.00" stroke="#8c8c8c" stroke-width="1.0"/><line x1="447.65" y1="514.00" x2="454.05" y2="514.00" stroke="#8c8c8c" stroke-width="1.0"/><line x1="447.65" y1="537.00" x2="454.05" y2="537.00" stroke="#8c8c8c" stroke-width="1.0"/><rect x="444.10" y="515.90" width="13.50" height="20.70" fill="url(#pfoxp)" stroke="#6a6a6a" stroke-width="1.1"/><line x1="471.85" y1="518.00" x2="471.85" y2="519.40" stroke="#8c8c8c" stroke-width="1.0"/><line x1="471.85" y1="543.70" x2="471.85" y2="543.70" stroke="#8c8c8c" stroke-width="1.0"/><line x1="468.65" y1="518.00" x2="475.05" y2="518.00" stroke="#8c8c8c" stroke-width="1.0"/><line x1="468.65" y1="543.70" x2="475.05" y2="543.70" stroke="#8c8c8c" stroke-width="1.0"/><rect x="464.90" y="519.40" width="13.90" height="24.30" fill="url(#pfza)" stroke="#888" stroke-width="1.1"/><line x1="464.90" y1="527.20" x2="478.80" y2="527.20" stroke="#888" stroke-width="0.9"/><line x1="492.95" y1="489.70" x2="492.95" y2="499.00" stroke="#8c8c8c" stroke-width="1.0"/><line x1="492.95" y1="531.00" x2="492.95" y2="537.50" stroke="#8c8c8c" stroke-width="1.0"/><line x1="489.75" y1="489.70" x2="496.15" y2="489.70" stroke="#8c8c8c" stroke-width="1.0"/><line x1="489.75" y1="537.50" x2="496.15" y2="537.50" stroke="#8c8c8c" stroke-width="1.0"/><rect x="486.30" y="499.00" width="13.30" height="32.00" fill="url(#pfgem)" stroke="#8a8a8a" stroke-width="1.1"/><line x1="513.35" y1="512.00" x2="513.35" y2="515.20" stroke="#8c8c8c" stroke-width="1.0"/><line x1="513.35" y1="537.60" x2="513.35" y2="542.20" stroke="#8c8c8c" stroke-width="1.0"/><line x1="510.15" y1="512.00" x2="516.55" y2="512.00" stroke="#8c8c8c" stroke-width="1.0"/><line x1="510.15" y1="542.20" x2="516.55" y2="542.20" stroke="#8c8c8c" stroke-width="1.0"/><rect x="506.30" y="515.20" width="14.10" height="22.40" fill="url(#pfoxp)" stroke="#6a6a6a" stroke-width="1.1"/><line x1="534.25" y1="512.60" x2="534.25" y2="514.10" stroke="#8c8c8c" stroke-width="1.0"/><line x1="534.25" y1="542.40" x2="534.25" y2="542.40" stroke="#8c8c8c" stroke-width="1.0"/><line x1="531.05" y1="512.60" x2="537.45" y2="512.60" stroke="#8c8c8c" stroke-width="1.0"/><line x1="531.05" y1="542.40" x2="537.45" y2="542.40" stroke="#8c8c8c" stroke-width="1.0"/><rect x="527.40" y="514.10" width="13.70" height="28.30" fill="url(#pfza)" stroke="#888" stroke-width="1.1"/><line x1="527.40" y1="528.40" x2="541.10" y2="528.40" stroke="#888" stroke-width="0.9"/><line x1="555.55" y1="482.80" x2="555.55" y2="483.70" stroke="#8c8c8c" stroke-width="1.0"/><line x1="555.55" y1="529.30" x2="555.55" y2="537.00" stroke="#8c8c8c" stroke-width="1.0"/><line x1="552.35" y1="482.80" x2="558.75" y2="482.80" stroke="#8c8c8c" stroke-width="1.0"/><line x1="552.35" y1="537.00" x2="558.75" y2="537.00" stroke="#8c8c8c" stroke-width="1.0"/><rect x="548.70" y="483.70" width="13.70" height="45.60" fill="url(#pfgem)" stroke="#8a8a8a" stroke-width="1.1"/><line x1="575.95" y1="458.40" x2="575.95" y2="487.60" stroke="#8c8c8c" stroke-width="1.0"/><line x1="575.95" y1="534.50" x2="575.95" y2="540.90" stroke="#8c8c8c" stroke-width="1.0"/><line x1="572.75" y1="458.40" x2="579.15" y2="458.40" stroke="#8c8c8c" stroke-width="1.0"/><line x1="572.75" y1="540.90" x2="579.15" y2="540.90" stroke="#8c8c8c" stroke-width="1.0"/><rect x="569.10" y="487.60" width="13.70" height="46.90" fill="url(#pfoxp)" stroke="#6a6a6a" stroke-width="1.1"/><line x1="596.65" y1="499.80" x2="596.65" y2="511.10" stroke="#8c8c8c" stroke-width="1.0"/><line x1="596.65" y1="538.50" x2="596.65" y2="538.50" stroke="#8c8c8c" stroke-width="1.0"/><line x1="593.45" y1="499.80" x2="599.85" y2="499.80" stroke="#8c8c8c" stroke-width="1.0"/><line x1="593.45" y1="538.50" x2="599.85" y2="538.50" stroke="#8c8c8c" stroke-width="1.0"/><rect x="589.80" y="511.10" width="13.70" height="27.40" fill="url(#pfza)" stroke="#888" stroke-width="1.1"/><line x1="589.80" y1="530.30" x2="603.50" y2="530.30" stroke="#888" stroke-width="0.9"/><line x1="617.20" y1="431.00" x2="617.20" y2="435.60" stroke="#8c8c8c" stroke-width="1.0"/><line x1="617.20" y1="500.40" x2="617.20" y2="520.20" stroke="#8c8c8c" stroke-width="1.0"/><line x1="614.00" y1="431.00" x2="620.40" y2="431.00" stroke="#8c8c8c" stroke-width="1.0"/><line x1="614.00" y1="520.20" x2="620.40" y2="520.20" stroke="#8c8c8c" stroke-width="1.0"/><rect x="610.20" y="435.60" width="14.00" height="64.80" fill="#555" stroke="#444" stroke-width="1.1"/><path d="M431.20 422.00L431.20 415.80M428.52 420.45L433.88 417.35M433.88 420.45L428.52 417.35" stroke="#000" stroke-width="1.2" stroke-linecap="round" fill="none"/><path d="M449.80 422.00L449.80 415.80M447.12 420.45L452.48 417.35M452.48 420.45L447.12 417.35" stroke="#000" stroke-width="1.2" stroke-linecap="round" fill="none"/><path d="M491.10 422.00L491.10 415.80M488.42 420.45L493.78 417.35M493.78 420.45L488.42 417.35" stroke="#000" stroke-width="1.2" stroke-linecap="round" fill="none"/><path d="M554.80 422.00L554.80 415.80M552.12 420.45L557.48 417.35M557.48 420.45L552.12 417.35" stroke="#000" stroke-width="1.2" stroke-linecap="round" fill="none"/><path d="M617.20 422.00L617.20 415.80M614.52 420.45L619.88 417.35M619.88 420.45L614.52 417.35" stroke="#000" stroke-width="1.2" stroke-linecap="round" fill="none"/><text x="408.80" y="564.20" font-size="10" text-anchor="middle" fill="#1a1a1a">0</text><text x="449.80" y="564.20" font-size="10" text-anchor="middle" fill="#1a1a1a">0.1</text><text x="515.00" y="563.60" font-size="10" text-anchor="middle" fill="#1a1a1a">1</text><text x="576.70" y="563.60" font-size="10" text-anchor="middle" fill="#1a1a1a">10</text><text x="618.70" y="566.00" font-size="10" text-anchor="middle" fill="#1a1a1a">1</text><text x="521.90" y="573.40" font-size="10" text-anchor="middle" fill="#1a1a1a" font-weight="bold">µM</text><text x="371.00" y="483.30" font-size="10.3" text-anchor="middle" fill="#111" textLength="96.80" lengthAdjust="spacingAndGlyphs" transform="rotate(-90 371.00 483.30)" stroke="#111" stroke-width="0.2">% change in CFSE+ DC</text><text x="345.00" y="411.20" font-size="13.5" text-anchor="start" fill="#000" font-weight="bold">(f)</text><rect x="631.30" y="409.90" width="13.20" height="11.00" fill="#fff" stroke="#5a5a5a" stroke-width="1.6"/><text x="647.00" y="418.80" font-size="10" text-anchor="start" fill="#1a1a1a" textLength="37.20" lengthAdjust="spacingAndGlyphs">No agent</text><rect x="631.30" y="425.50" width="13.20" height="11.00" fill="url(#pfgem)" stroke="#5a5a5a" stroke-width="1.6"/><text x="647.00" y="434.40" font-size="10" text-anchor="start" fill="#1a1a1a">Gem</text><rect x="631.30" y="441.10" width="13.20" height="11.00" fill="url(#pfoxp)" stroke="#5a5a5a" stroke-width="1.6"/><text x="647.00" y="450.00" font-size="10" text-anchor="start" fill="#1a1a1a">Oxp</text><rect x="631.30" y="456.70" width="13.20" height="11.00" fill="url(#pfza)" stroke="#5a5a5a" stroke-width="1.6"/><text x="647.00" y="465.60" font-size="10" text-anchor="start" fill="#1a1a1a">ZA</text><rect x="631.30" y="472.30" width="13.20" height="11.00" fill="#555" stroke="#5a5a5a" stroke-width="1.6"/><text x="647.00" y="481.20" font-size="10" text-anchor="start" fill="#1a1a1a">Dox</text>
<g><rect x="380.40" y="8.40" width="84.60" height="94.80" fill="#fff" stroke="#a8a8a8" stroke-width="1.1"/><text x="428.90" y="5.80" font-size="7.6" text-anchor="middle" fill="#111" font-weight="bold" textLength="27.70" lengthAdjust="spacingAndGlyphs">PANC-1</text><rect x="467.90" y="8.40" width="85.10" height="94.80" fill="#fff" stroke="#a8a8a8" stroke-width="1.1"/><text x="516.00" y="5.80" font-size="7.6" text-anchor="middle" fill="#111" font-weight="bold" textLength="10.50" lengthAdjust="spacingAndGlyphs">DC</text><rect x="555.20" y="8.40" width="85.30" height="94.80" fill="#fff" stroke="#a8a8a8" stroke-width="1.1"/><text x="597.40" y="5.80" font-size="7.6" text-anchor="middle" fill="#111" font-weight="bold" textLength="86.50" lengthAdjust="spacingAndGlyphs">DC + PANC-1 (CFSE) Dox</text><rect x="380.40" y="116.60" width="84.80" height="94.00" fill="#fff" stroke="#a8a8a8" stroke-width="1.1"/><text x="427.00" y="114.80" font-size="7.6" text-anchor="middle" fill="#111" font-weight="bold" textLength="52.30" lengthAdjust="spacingAndGlyphs">PANC-1 (CFSE)</text><rect x="467.40" y="116.60" width="85.20" height="94.00" fill="#fff" stroke="#a8a8a8" stroke-width="1.1"/><text x="509.30" y="114.80" font-size="7.6" text-anchor="middle" fill="#111" font-weight="bold" textLength="71.00" lengthAdjust="spacingAndGlyphs">DC + PANC-1 (CFSE)</text><rect x="555.40" y="116.60" width="85.10" height="94.00" fill="#fff" stroke="#a8a8a8" stroke-width="1.1"/><text x="598.80" y="114.80" font-size="7.6" text-anchor="middle" fill="#111" font-weight="bold" textLength="97.00" lengthAdjust="spacingAndGlyphs">DC + PANC-1 (CFSE) + Gem</text></g><g><path fill="#0000f9" d="M403.85 46.85h1.35v1.35h-1.35zM412.85 46.85h1.35v1.35h-1.35zM404.85 49.85h1.35v1.35h-1.35zM406.85 50.85h1.35v1.35h-1.35zM408.85 50.85h1.35v1.35h-1.35zM410.85 51.85h1.35v1.35h-1.35zM413.85 51.85h1.35v1.35h-1.35zM409.85 52.85h1.35v1.35h-1.35zM408.85 54.85h1.35v1.35h-1.35zM413.85 54.85h1.35v1.35h-1.35zM403.85 55.85h1.35v1.35h-1.35zM409.85 55.85h1.35v1.35h-1.35zM406.85 56.85h2.35v1.35h-2.35zM403.85 57.85h1.35v1.35h-1.35zM407.85 57.85h1.35v1.35h-1.35zM407.85 58.85h1.35v1.35h-1.35zM409.85 58.85h1.35v1.35h-1.35zM402.85 59.85h1.35v1.35h-1.35zM404.85 59.85h3.35v1.35h-3.35zM409.85 59.85h2.35v1.35h-2.35zM398.85 60.85h1.35v1.35h-1.35zM400.85 60.85h1.35v1.35h-1.35zM402.85 60.85h5.35v1.35h-5.35zM400.85 61.85h2.35v1.35h-2.35zM403.85 61.85h3.35v1.35h-3.35zM411.85 61.85h2.35v1.35h-2.35zM400.85 62.85h4.35v1.35h-4.35zM405.85 62.85h2.35v1.35h-2.35zM409.85 62.85h1.35v1.35h-1.35zM399.85 63.85h12.35v1.35h-12.35zM399.85 64.85h8.35v1.35h-8.35zM408.85 64.85h1.35v1.35h-1.35zM410.85 64.85h3.35v1.35h-3.35zM399.85 65.85h4.35v1.35h-4.35zM407.85 65.85h4.35v1.35h-4.35zM396.85 66.85h1.35v1.35h-1.35zM399.85 66.85h1.35v1.35h-1.35zM401.85 66.85h2.35v1.35h-2.35zM408.85 66.85h2.35v1.35h-2.35zM411.85 66.85h1.35v1.35h-1.35zM399.85 67.85h1.35v1.35h-1.35zM401.85 67.85h1.35v1.35h-1.35zM409.85 67.85h2.35v1.35h-2.35zM400.85 68.85h3.35v1.35h-3.35zM409.85 68.85h3.35v1.35h-3.35zM400.85 69.85h1.35v1.35h-1.35zM402.85 69.85h1.35v1.35h-1.35zM410.85 69.85h3.35v1.35h-3.35zM414.85 69.85h1.35v1.35h-1.35zM399.85 70.85h4.35v1.35h-4.35zM410.85 70.85h3.35v1.35h-3.35zM400.85 71.85h3.35v1.35h-3.35zM411.85 71.85h4.35v1.35h-4.35zM398.85 72.85h4.35v1.35h-4.35zM411.85 72.85h4.35v1.35h-4.35zM412.85 73.85h1.35v1.35h-1.35zM414.85 73.85h1.35v1.35h-1.35zM397.85 74.85h2.35v1.35h-2.35zM412.85 74.85h1.35v1.35h-1.35zM396.85 75.85h2.35v1.35h-2.35zM413.85 75.85h2.35v1.35h-2.35zM396.85 76.85h1.35v1.35h-1.35zM413.85 76.85h2.35v1.35h-2.35zM395.85 77.85h2.35v1.35h-2.35zM413.85 77.85h1.35v1.35h-1.35zM396.85 78.85h1.35v1.35h-1.35zM412.85 78.85h2.35v1.35h-2.35zM395.85 79.85h2.35v1.35h-2.35zM411.85 79.85h2.35v1.35h-2.35zM396.85 80.85h1.35v1.35h-1.35zM410.85 80.85h4.35v1.35h-4.35zM410.85 81.85h2.35v1.35h-2.35z"/><path fill="#003fff" d="M403.85 65.85h4.35v1.35h-4.35zM403.85 66.85h2.35v1.35h-2.35zM406.85 66.85h2.35v1.35h-2.35zM403.85 67.85h6.35v1.35h-6.35zM403.85 68.85h6.35v1.35h-6.35zM403.85 69.85h7.35v1.35h-7.35zM403.85 70.85h7.35v1.35h-7.35zM403.85 71.85h8.35v1.35h-8.35zM402.85 72.85h7.35v1.35h-7.35zM410.85 72.85h1.35v1.35h-1.35zM401.85 73.85h11.35v1.35h-11.35zM399.85 74.85h3.35v1.35h-3.35zM409.85 74.85h3.35v1.35h-3.35zM398.85 75.85h2.35v1.35h-2.35zM410.85 75.85h3.35v1.35h-3.35zM398.85 76.85h1.35v1.35h-1.35zM410.85 76.85h3.35v1.35h-3.35zM397.85 77.85h1.35v1.35h-1.35zM410.85 77.85h3.35v1.35h-3.35zM397.85 78.85h1.35v1.35h-1.35zM410.85 78.85h2.35v1.35h-2.35zM397.85 79.85h1.35v1.35h-1.35zM409.85 79.85h2.35v1.35h-2.35zM397.85 80.85h1.35v1.35h-1.35zM407.85 80.85h2.35v1.35h-2.35zM405.85 81.85h3.35v1.35h-3.35z"/><path fill="#0084ff" d="M402.85 74.85h4.35v1.35h-4.35zM407.85 74.85h2.35v1.35h-2.35zM400.85 75.85h1.35v1.35h-1.35zM408.85 75.85h2.35v1.35h-2.35zM409.85 76.85h1.35v1.35h-1.35zM398.85 77.85h1.35v1.35h-1.35zM409.85 77.85h1.35v1.35h-1.35zM408.85 78.85h2.35v1.35h-2.35zM407.85 79.85h2.35v1.35h-2.35zM398.85 80.85h1.35v1.35h-1.35zM406.85 80.85h1.35v1.35h-1.35zM400.85 81.85h1.35v1.35h-1.35zM404.85 81.85h1.35v1.35h-1.35z"/><path fill="#00caff" d="M401.85 75.85h2.35v1.35h-2.35zM405.85 75.85h3.35v1.35h-3.35zM399.85 76.85h1.35v1.35h-1.35zM407.85 76.85h2.35v1.35h-2.35zM408.85 77.85h1.35v1.35h-1.35zM398.85 78.85h1.35v1.35h-1.35zM407.85 78.85h1.35v1.35h-1.35zM398.85 79.85h1.35v1.35h-1.35zM399.85 80.85h1.35v1.35h-1.35zM405.85 80.85h1.35v1.35h-1.35zM403.85 81.85h1.35v1.35h-1.35z"/><path fill="#10ffee" d="M403.85 75.85h2.35v1.35h-2.35zM400.85 76.85h1.35v1.35h-1.35zM406.85 76.85h1.35v1.35h-1.35zM399.85 77.85h1.35v1.35h-1.35zM407.85 77.85h1.35v1.35h-1.35zM406.85 79.85h1.35v1.35h-1.35z"/><path fill="#55ffa9" d="M405.85 76.85h1.35v1.35h-1.35zM406.85 77.85h1.35v1.35h-1.35zM406.85 78.85h1.35v1.35h-1.35zM399.85 79.85h1.35v1.35h-1.35zM400.85 80.85h1.35v1.35h-1.35zM404.85 80.85h1.35v1.35h-1.35z"/><path fill="#9aff64" d="M401.85 76.85h1.35v1.35h-1.35zM404.85 76.85h1.35v1.35h-1.35zM399.85 78.85h1.35v1.35h-1.35zM405.85 79.85h1.35v1.35h-1.35z"/><path fill="#dfff1f" d="M402.85 76.85h2.35v1.35h-2.35zM400.85 77.85h1.35v1.35h-1.35zM405.85 77.85h1.35v1.35h-1.35zM405.85 78.85h1.35v1.35h-1.35zM401.85 80.85h3.35v1.35h-3.35z"/><path fill="#ffd900" d="M400.85 79.85h1.35v1.35h-1.35zM404.85 79.85h1.35v1.35h-1.35z"/><path fill="#ff9400" d="M401.85 77.85h1.35v1.35h-1.35zM404.85 77.85h1.35v1.35h-1.35zM400.85 78.85h1.35v1.35h-1.35z"/><path fill="#ff4f00" d="M403.85 77.85h1.35v1.35h-1.35zM404.85 78.85h1.35v1.35h-1.35z"/><path fill="#ff0a00" d="M402.85 77.85h1.35v1.35h-1.35zM401.85 79.85h1.35v1.35h-1.35zM403.85 79.85h1.35v1.35h-1.35z"/><path fill="#c40000" d="M401.85 78.85h1.35v1.35h-1.35zM403.85 78.85h1.35v1.35h-1.35zM402.85 79.85h1.35v1.35h-1.35z"/><path fill="#7f0000" d="M402.85 78.85h1.35v1.35h-1.35z"/><path fill="#0000f9" d="M525.85 61.85h1.35v1.35h-1.35zM527.85 61.85h2.35v1.35h-2.35zM545.85 61.85h1.35v1.35h-1.35zM523.85 62.85h1.35v1.35h-1.35zM525.85 62.85h1.35v1.35h-1.35zM533.85 62.85h1.35v1.35h-1.35zM529.85 63.85h1.35v1.35h-1.35zM535.85 63.85h1.35v1.35h-1.35zM539.85 63.85h1.35v1.35h-1.35zM527.85 64.85h1.35v1.35h-1.35zM544.85 66.85h1.35v1.35h-1.35zM529.85 68.85h1.35v1.35h-1.35zM543.85 68.85h1.35v1.35h-1.35zM529.85 69.85h1.35v1.35h-1.35zM533.85 69.85h1.35v1.35h-1.35zM531.85 71.85h1.35v1.35h-1.35zM534.85 72.85h1.35v1.35h-1.35zM525.85 73.85h3.35v1.35h-3.35zM530.85 73.85h1.35v1.35h-1.35zM532.85 73.85h5.35v1.35h-5.35zM538.85 73.85h1.35v1.35h-1.35zM544.85 73.85h1.35v1.35h-1.35zM522.85 74.85h9.35v1.35h-9.35zM540.85 74.85h8.35v1.35h-8.35zM549.85 74.85h1.35v1.35h-1.35zM523.85 75.85h2.35v1.35h-2.35zM526.85 75.85h2.35v1.35h-2.35zM549.85 75.85h1.35v1.35h-1.35zM551.85 75.85h1.35v1.35h-1.35zM522.85 76.85h5.35v1.35h-5.35zM551.85 76.85h1.35v1.35h-1.35zM522.85 77.85h4.35v1.35h-4.35zM551.85 77.85h1.35v1.35h-1.35zM522.85 78.85h4.35v1.35h-4.35zM522.85 79.85h5.35v1.35h-5.35zM525.85 80.85h3.35v1.35h-3.35zM526.85 81.85h1.35v1.35h-1.35zM528.85 81.85h2.35v1.35h-2.35zM551.85 81.85h1.35v1.35h-1.35zM526.85 82.85h1.35v1.35h-1.35zM529.85 82.85h1.35v1.35h-1.35zM551.85 82.85h1.35v1.35h-1.35zM549.85 83.85h2.35v1.35h-2.35zM537.85 84.85h1.35v1.35h-1.35zM545.85 84.85h1.35v1.35h-1.35zM547.85 84.85h2.35v1.35h-2.35z"/><path fill="#003fff" d="M532.85 74.85h5.35v1.35h-5.35zM538.85 74.85h2.35v1.35h-2.35zM528.85 75.85h6.35v1.35h-6.35zM538.85 75.85h11.35v1.35h-11.35zM527.85 76.85h4.35v1.35h-4.35zM548.85 76.85h3.35v1.35h-3.35zM526.85 77.85h4.35v1.35h-4.35zM549.85 77.85h2.35v1.35h-2.35zM526.85 78.85h3.35v1.35h-3.35zM550.85 78.85h2.35v1.35h-2.35zM527.85 79.85h3.35v1.35h-3.35zM550.85 79.85h2.35v1.35h-2.35zM528.85 80.85h3.35v1.35h-3.35zM550.85 80.85h2.35v1.35h-2.35zM530.85 81.85h2.35v1.35h-2.35zM550.85 81.85h1.35v1.35h-1.35zM531.85 82.85h2.35v1.35h-2.35zM545.85 82.85h6.35v1.35h-6.35zM535.85 83.85h1.35v1.35h-1.35zM538.85 83.85h3.35v1.35h-3.35zM542.85 83.85h1.35v1.35h-1.35zM545.85 83.85h1.35v1.35h-1.35zM548.85 83.85h1.35v1.35h-1.35z"/><path fill="#0084ff" d="M534.85 75.85h4.35v1.35h-4.35zM531.85 76.85h2.35v1.35h-2.35zM543.85 76.85h5.35v1.35h-5.35zM530.85 77.85h1.35v1.35h-1.35zM548.85 77.85h1.35v1.35h-1.35zM529.85 78.85h2.35v1.35h-2.35zM549.85 78.85h1.35v1.35h-1.35zM530.85 79.85h1.35v1.35h-1.35zM549.85 79.85h1.35v1.35h-1.35zM531.85 80.85h1.35v1.35h-1.35zM549.85 80.85h1.35v1.35h-1.35zM532.85 81.85h1.35v1.35h-1.35zM547.85 81.85h3.35v1.35h-3.35zM534.85 82.85h1.35v1.35h-1.35zM541.85 82.85h4.35v1.35h-4.35z"/><path fill="#00caff" d="M533.85 76.85h3.35v1.35h-3.35zM538.85 76.85h5.35v1.35h-5.35zM531.85 77.85h1.35v1.35h-1.35zM545.85 77.85h3.35v1.35h-3.35zM531.85 78.85h1.35v1.35h-1.35zM548.85 78.85h1.35v1.35h-1.35zM531.85 79.85h1.35v1.35h-1.35zM548.85 79.85h1.35v1.35h-1.35zM548.85 80.85h1.35v1.35h-1.35zM533.85 81.85h1.35v1.35h-1.35zM544.85 81.85h3.35v1.35h-3.35zM535.85 82.85h2.35v1.35h-2.35zM539.85 82.85h2.35v1.35h-2.35z"/><path fill="#10ffee" d="M536.85 76.85h2.35v1.35h-2.35zM532.85 77.85h1.35v1.35h-1.35zM543.85 77.85h2.35v1.35h-2.35zM546.85 78.85h2.35v1.35h-2.35zM547.85 79.85h1.35v1.35h-1.35zM532.85 80.85h1.35v1.35h-1.35zM546.85 80.85h2.35v1.35h-2.35zM542.85 81.85h2.35v1.35h-2.35zM537.85 82.85h2.35v1.35h-2.35z"/><path fill="#55ffa9" d="M533.85 77.85h1.35v1.35h-1.35zM541.85 77.85h2.35v1.35h-2.35zM532.85 78.85h1.35v1.35h-1.35zM544.85 78.85h2.35v1.35h-2.35zM532.85 79.85h1.35v1.35h-1.35zM545.85 79.85h2.35v1.35h-2.35zM544.85 80.85h2.35v1.35h-2.35zM534.85 81.85h1.35v1.35h-1.35zM541.85 81.85h1.35v1.35h-1.35z"/><path fill="#9aff64" d="M534.85 77.85h2.35v1.35h-2.35zM539.85 77.85h2.35v1.35h-2.35zM533.85 78.85h1.35v1.35h-1.35zM543.85 78.85h1.35v1.35h-1.35zM544.85 79.85h1.35v1.35h-1.35zM533.85 80.85h1.35v1.35h-1.35zM543.85 80.85h1.35v1.35h-1.35zM535.85 81.85h1.35v1.35h-1.35zM540.85 81.85h1.35v1.35h-1.35z"/><path fill="#dfff1f" d="M536.85 77.85h3.35v1.35h-3.35zM542.85 78.85h1.35v1.35h-1.35zM533.85 79.85h1.35v1.35h-1.35zM543.85 79.85h1.35v1.35h-1.35zM542.85 80.85h1.35v1.35h-1.35zM536.85 81.85h1.35v1.35h-1.35zM539.85 81.85h1.35v1.35h-1.35z"/><path fill="#ffd900" d="M534.85 78.85h1.35v1.35h-1.35zM541.85 78.85h1.35v1.35h-1.35zM542.85 79.85h1.35v1.35h-1.35zM534.85 80.85h1.35v1.35h-1.35zM541.85 80.85h1.35v1.35h-1.35zM537.85 81.85h2.35v1.35h-2.35z"/><path fill="#ff9400" d="M535.85 78.85h1.35v1.35h-1.35zM540.85 78.85h1.35v1.35h-1.35zM534.85 79.85h1.35v1.35h-1.35zM541.85 79.85h1.35v1.35h-1.35zM540.85 80.85h1.35v1.35h-1.35z"/><path fill="#ff4f00" d="M536.85 78.85h1.35v1.35h-1.35zM539.85 78.85h1.35v1.35h-1.35zM535.85 80.85h1.35v1.35h-1.35z"/><path fill="#ff0a00" d="M537.85 78.85h2.35v1.35h-2.35zM535.85 79.85h1.35v1.35h-1.35zM540.85 79.85h1.35v1.35h-1.35zM536.85 80.85h1.35v1.35h-1.35zM539.85 80.85h1.35v1.35h-1.35z"/><path fill="#c40000" d="M536.85 79.85h1.35v1.35h-1.35zM539.85 79.85h1.35v1.35h-1.35zM537.85 80.85h2.35v1.35h-2.35z"/><path fill="#7f0000" d="M537.85 79.85h2.35v1.35h-2.35z"/><path fill="#0000f9" d="M613.85 24.85h1.35v1.35h-1.35zM618.85 24.85h1.35v1.35h-1.35zM616.85 25.85h1.35v1.35h-1.35zM634.85 25.85h1.35v1.35h-1.35zM625.85 26.85h1.35v1.35h-1.35zM615.85 30.85h1.35v1.35h-1.35zM620.85 30.85h1.35v1.35h-1.35zM623.85 30.85h1.35v1.35h-1.35zM634.85 30.85h2.35v1.35h-2.35zM626.85 32.85h1.35v1.35h-1.35zM636.85 32.85h1.35v1.35h-1.35zM624.85 33.85h1.35v1.35h-1.35zM626.85 34.85h1.35v1.35h-1.35zM635.85 34.85h1.35v1.35h-1.35zM638.85 34.85h1.35v1.35h-1.35zM634.85 35.85h1.35v1.35h-1.35zM638.85 35.85h1.35v1.35h-1.35zM634.85 36.85h1.35v1.35h-1.35zM613.85 37.85h1.35v1.35h-1.35zM638.85 37.85h1.35v1.35h-1.35zM638.85 38.85h1.35v1.35h-1.35zM616.85 39.85h1.35v1.35h-1.35zM619.85 39.85h1.35v1.35h-1.35zM630.85 40.85h1.35v1.35h-1.35zM627.85 41.85h2.35v1.35h-2.35zM632.85 41.85h1.35v1.35h-1.35zM637.85 41.85h1.35v1.35h-1.35zM633.85 42.85h2.35v1.35h-2.35zM626.85 43.85h1.35v1.35h-1.35zM633.85 43.85h3.35v1.35h-3.35zM630.85 44.85h2.35v1.35h-2.35zM633.85 44.85h3.35v1.35h-3.35zM629.85 45.85h1.35v1.35h-1.35zM632.85 45.85h2.35v1.35h-2.35zM625.85 46.85h2.35v1.35h-2.35zM628.85 46.85h8.35v1.35h-8.35zM615.85 47.85h1.35v1.35h-1.35zM625.85 47.85h2.35v1.35h-2.35zM628.85 47.85h4.35v1.35h-4.35zM633.85 47.85h1.35v1.35h-1.35zM636.85 47.85h2.35v1.35h-2.35zM628.85 48.85h2.35v1.35h-2.35zM631.85 48.85h4.35v1.35h-4.35zM638.85 48.85h1.35v1.35h-1.35zM618.85 49.85h2.35v1.35h-2.35zM627.85 49.85h5.35v1.35h-5.35zM637.85 49.85h1.35v1.35h-1.35zM619.85 50.85h2.35v1.35h-2.35zM627.85 50.85h10.35v1.35h-10.35zM609.85 51.85h1.35v1.35h-1.35zM618.85 51.85h1.35v1.35h-1.35zM620.85 51.85h1.35v1.35h-1.35zM623.85 51.85h2.35v1.35h-2.35zM626.85 51.85h6.35v1.35h-6.35zM633.85 51.85h4.35v1.35h-4.35zM618.85 52.85h1.35v1.35h-1.35zM621.85 52.85h9.35v1.35h-9.35zM631.85 52.85h2.35v1.35h-2.35zM634.85 52.85h2.35v1.35h-2.35zM617.85 53.85h1.35v1.35h-1.35zM619.85 53.85h1.35v1.35h-1.35zM621.85 53.85h1.35v1.35h-1.35zM625.85 53.85h6.35v1.35h-6.35zM632.85 53.85h5.35v1.35h-5.35zM612.85 54.85h1.35v1.35h-1.35zM614.85 54.85h1.35v1.35h-1.35zM617.85 54.85h4.35v1.35h-4.35zM622.85 54.85h2.35v1.35h-2.35zM626.85 54.85h8.35v1.35h-8.35zM635.85 54.85h2.35v1.35h-2.35zM610.85 55.85h4.35v1.35h-4.35zM615.85 55.85h12.35v1.35h-12.35zM628.85 55.85h7.35v1.35h-7.35zM636.85 55.85h1.35v1.35h-1.35zM614.85 56.85h3.35v1.35h-3.35zM618.85 56.85h2.35v1.35h-2.35zM621.85 56.85h3.35v1.35h-3.35zM625.85 56.85h1.35v1.35h-1.35zM627.85 56.85h10.35v1.35h-10.35zM638.85 56.85h1.35v1.35h-1.35zM612.85 57.85h7.35v1.35h-7.35zM620.85 57.85h3.35v1.35h-3.35zM624.85 57.85h3.35v1.35h-3.35zM628.85 57.85h6.35v1.35h-6.35zM636.85 57.85h1.35v1.35h-1.35zM610.85 58.85h5.35v1.35h-5.35zM616.85 58.85h8.35v1.35h-8.35zM625.85 58.85h11.35v1.35h-11.35zM637.85 58.85h2.35v1.35h-2.35zM609.85 59.85h1.35v1.35h-1.35zM611.85 59.85h2.35v1.35h-2.35zM614.85 59.85h2.35v1.35h-2.35zM617.85 59.85h6.35v1.35h-6.35zM632.85 59.85h3.35v1.35h-3.35zM611.85 60.85h1.35v1.35h-1.35zM614.85 60.85h2.35v1.35h-2.35zM617.85 60.85h5.35v1.35h-5.35zM632.85 60.85h4.35v1.35h-4.35zM637.85 60.85h1.35v1.35h-1.35zM609.85 61.85h1.35v1.35h-1.35zM611.85 61.85h3.35v1.35h-3.35zM615.85 61.85h2.35v1.35h-2.35zM618.85 61.85h3.35v1.35h-3.35zM633.85 61.85h1.35v1.35h-1.35zM636.85 61.85h1.35v1.35h-1.35zM611.85 62.85h1.35v1.35h-1.35zM614.85 62.85h6.35v1.35h-6.35zM633.85 62.85h2.35v1.35h-2.35zM636.85 62.85h2.35v1.35h-2.35zM609.85 63.85h1.35v1.35h-1.35zM611.85 63.85h2.35v1.35h-2.35zM615.85 63.85h4.35v1.35h-4.35zM633.85 63.85h3.35v1.35h-3.35zM612.85 64.85h6.35v1.35h-6.35zM633.85 64.85h5.35v1.35h-5.35zM612.85 65.85h1.35v1.35h-1.35zM615.85 65.85h2.35v1.35h-2.35zM637.85 65.85h2.35v1.35h-2.35zM610.85 66.85h1.35v1.35h-1.35zM612.85 66.85h5.35v1.35h-5.35zM633.85 66.85h4.35v1.35h-4.35zM609.85 67.85h8.35v1.35h-8.35zM633.85 67.85h1.35v1.35h-1.35zM610.85 68.85h1.35v1.35h-1.35zM612.85 68.85h5.35v1.35h-5.35zM633.85 68.85h6.35v1.35h-6.35zM611.85 69.85h1.35v1.35h-1.35zM613.85 69.85h3.35v1.35h-3.35zM637.85 69.85h1.35v1.35h-1.35zM610.85 70.85h5.35v1.35h-5.35zM632.85 70.85h2.35v1.35h-2.35zM635.85 70.85h2.35v1.35h-2.35zM638.85 70.85h1.35v1.35h-1.35zM609.85 71.85h6.35v1.35h-6.35zM632.85 71.85h1.35v1.35h-1.35zM638.85 71.85h1.35v1.35h-1.35zM611.85 72.85h4.35v1.35h-4.35zM631.85 72.85h4.35v1.35h-4.35zM636.85 72.85h3.35v1.35h-3.35zM610.85 73.85h5.35v1.35h-5.35zM631.85 73.85h6.35v1.35h-6.35zM611.85 74.85h1.35v1.35h-1.35zM613.85 74.85h3.35v1.35h-3.35zM630.85 74.85h5.35v1.35h-5.35zM636.85 74.85h2.35v1.35h-2.35zM610.85 75.85h2.35v1.35h-2.35zM614.85 75.85h3.35v1.35h-3.35zM629.85 75.85h4.35v1.35h-4.35zM636.85 75.85h1.35v1.35h-1.35zM613.85 76.85h1.35v1.35h-1.35zM616.85 76.85h1.35v1.35h-1.35zM628.85 76.85h1.35v1.35h-1.35zM630.85 76.85h2.35v1.35h-2.35zM633.85 76.85h2.35v1.35h-2.35zM636.85 76.85h1.35v1.35h-1.35zM609.85 77.85h2.35v1.35h-2.35zM614.85 77.85h1.35v1.35h-1.35zM617.85 77.85h1.35v1.35h-1.35zM619.85 77.85h3.35v1.35h-3.35zM625.85 77.85h4.35v1.35h-4.35zM630.85 77.85h2.35v1.35h-2.35zM634.85 77.85h1.35v1.35h-1.35zM636.85 77.85h1.35v1.35h-1.35zM618.85 78.85h1.35v1.35h-1.35zM621.85 78.85h6.35v1.35h-6.35zM628.85 78.85h1.35v1.35h-1.35zM634.85 78.85h2.35v1.35h-2.35zM611.85 79.85h1.35v1.35h-1.35zM617.85 79.85h2.35v1.35h-2.35zM620.85 79.85h3.35v1.35h-3.35zM624.85 79.85h1.35v1.35h-1.35zM627.85 79.85h1.35v1.35h-1.35zM633.85 79.85h1.35v1.35h-1.35zM613.85 80.85h1.35v1.35h-1.35zM619.85 80.85h1.35v1.35h-1.35zM621.85 80.85h1.35v1.35h-1.35zM626.85 80.85h1.35v1.35h-1.35zM628.85 80.85h1.35v1.35h-1.35z"/><path fill="#003fff" d="M623.85 59.85h9.35v1.35h-9.35zM622.85 60.85h10.35v1.35h-10.35zM621.85 61.85h3.35v1.35h-3.35zM625.85 61.85h8.35v1.35h-8.35zM620.85 62.85h6.35v1.35h-6.35zM631.85 62.85h2.35v1.35h-2.35zM619.85 63.85h6.35v1.35h-6.35zM631.85 63.85h2.35v1.35h-2.35zM618.85 64.85h6.35v1.35h-6.35zM632.85 64.85h1.35v1.35h-1.35zM617.85 65.85h6.35v1.35h-6.35zM632.85 65.85h1.35v1.35h-1.35zM617.85 66.85h5.35v1.35h-5.35zM632.85 66.85h1.35v1.35h-1.35zM618.85 67.85h3.35v1.35h-3.35zM631.85 67.85h2.35v1.35h-2.35zM617.85 68.85h3.35v1.35h-3.35zM631.85 68.85h2.35v1.35h-2.35zM616.85 69.85h2.35v1.35h-2.35zM631.85 69.85h2.35v1.35h-2.35zM615.85 70.85h3.35v1.35h-3.35zM630.85 70.85h2.35v1.35h-2.35zM615.85 71.85h2.35v1.35h-2.35zM630.85 71.85h2.35v1.35h-2.35zM615.85 72.85h2.35v1.35h-2.35zM630.85 72.85h1.35v1.35h-1.35zM615.85 73.85h2.35v1.35h-2.35zM629.85 73.85h2.35v1.35h-2.35zM616.85 74.85h1.35v1.35h-1.35zM629.85 74.85h1.35v1.35h-1.35zM617.85 75.85h2.35v1.35h-2.35zM627.85 75.85h2.35v1.35h-2.35zM619.85 76.85h3.35v1.35h-3.35zM624.85 76.85h4.35v1.35h-4.35zM622.85 77.85h1.35v1.35h-1.35z"/><path fill="#0084ff" d="M626.85 62.85h5.35v1.35h-5.35zM625.85 63.85h2.35v1.35h-2.35zM630.85 63.85h1.35v1.35h-1.35zM624.85 64.85h2.35v1.35h-2.35zM630.85 64.85h2.35v1.35h-2.35zM623.85 65.85h2.35v1.35h-2.35zM631.85 65.85h1.35v1.35h-1.35zM622.85 66.85h2.35v1.35h-2.35zM631.85 66.85h1.35v1.35h-1.35zM621.85 67.85h2.35v1.35h-2.35zM630.85 67.85h1.35v1.35h-1.35zM620.85 68.85h2.35v1.35h-2.35zM630.85 68.85h1.35v1.35h-1.35zM619.85 69.85h1.35v1.35h-1.35zM630.85 69.85h1.35v1.35h-1.35zM618.85 70.85h1.35v1.35h-1.35zM629.85 70.85h1.35v1.35h-1.35zM617.85 71.85h1.35v1.35h-1.35zM629.85 71.85h1.35v1.35h-1.35zM617.85 72.85h1.35v1.35h-1.35zM629.85 72.85h1.35v1.35h-1.35zM617.85 73.85h1.35v1.35h-1.35zM628.85 73.85h1.35v1.35h-1.35zM617.85 74.85h1.35v1.35h-1.35zM628.85 74.85h1.35v1.35h-1.35zM619.85 75.85h1.35v1.35h-1.35zM626.85 75.85h1.35v1.35h-1.35zM623.85 76.85h1.35v1.35h-1.35z"/><path fill="#00caff" d="M627.85 63.85h3.35v1.35h-3.35zM626.85 64.85h4.35v1.35h-4.35zM625.85 65.85h1.35v1.35h-1.35zM630.85 65.85h1.35v1.35h-1.35zM624.85 66.85h1.35v1.35h-1.35zM630.85 66.85h1.35v1.35h-1.35zM623.85 67.85h2.35v1.35h-2.35zM622.85 68.85h2.35v1.35h-2.35zM629.85 68.85h1.35v1.35h-1.35zM620.85 69.85h2.35v1.35h-2.35zM629.85 69.85h1.35v1.35h-1.35zM619.85 70.85h1.35v1.35h-1.35zM618.85 71.85h1.35v1.35h-1.35zM628.85 71.85h1.35v1.35h-1.35zM628.85 72.85h1.35v1.35h-1.35zM618.85 74.85h1.35v1.35h-1.35zM627.85 74.85h1.35v1.35h-1.35zM620.85 75.85h1.35v1.35h-1.35zM625.85 75.85h1.35v1.35h-1.35z"/><path fill="#10ffee" d="M626.85 65.85h4.35v1.35h-4.35zM625.85 66.85h2.35v1.35h-2.35zM629.85 66.85h1.35v1.35h-1.35zM625.85 67.85h1.35v1.35h-1.35zM629.85 67.85h1.35v1.35h-1.35zM624.85 68.85h1.35v1.35h-1.35zM628.85 68.85h1.35v1.35h-1.35zM622.85 69.85h1.35v1.35h-1.35zM628.85 69.85h1.35v1.35h-1.35zM620.85 70.85h1.35v1.35h-1.35zM628.85 70.85h1.35v1.35h-1.35zM618.85 72.85h1.35v1.35h-1.35zM618.85 73.85h1.35v1.35h-1.35zM627.85 73.85h1.35v1.35h-1.35zM619.85 74.85h1.35v1.35h-1.35zM626.85 74.85h1.35v1.35h-1.35zM621.85 75.85h4.35v1.35h-4.35z"/><path fill="#55ffa9" d="M627.85 66.85h2.35v1.35h-2.35zM626.85 67.85h3.35v1.35h-3.35zM625.85 68.85h3.35v1.35h-3.35zM623.85 69.85h1.35v1.35h-1.35zM627.85 69.85h1.35v1.35h-1.35zM621.85 70.85h1.35v1.35h-1.35zM627.85 70.85h1.35v1.35h-1.35zM619.85 71.85h1.35v1.35h-1.35zM627.85 71.85h1.35v1.35h-1.35zM627.85 72.85h1.35v1.35h-1.35z"/><path fill="#9aff64" d="M624.85 69.85h3.35v1.35h-3.35zM626.85 70.85h1.35v1.35h-1.35zM619.85 72.85h1.35v1.35h-1.35zM619.85 73.85h1.35v1.35h-1.35zM626.85 73.85h1.35v1.35h-1.35zM620.85 74.85h1.35v1.35h-1.35zM625.85 74.85h1.35v1.35h-1.35z"/><path fill="#dfff1f" d="M622.85 70.85h2.35v1.35h-2.35zM625.85 70.85h1.35v1.35h-1.35zM620.85 71.85h1.35v1.35h-1.35zM626.85 71.85h1.35v1.35h-1.35zM626.85 72.85h1.35v1.35h-1.35zM621.85 74.85h1.35v1.35h-1.35z"/><path fill="#ffd900" d="M624.85 70.85h1.35v1.35h-1.35zM621.85 71.85h1.35v1.35h-1.35zM620.85 72.85h1.35v1.35h-1.35zM620.85 73.85h1.35v1.35h-1.35zM622.85 74.85h3.35v1.35h-3.35z"/><path fill="#ff9400" d="M625.85 71.85h1.35v1.35h-1.35zM625.85 73.85h1.35v1.35h-1.35z"/><path fill="#ff4f00" d="M622.85 71.85h1.35v1.35h-1.35zM624.85 71.85h1.35v1.35h-1.35zM625.85 72.85h1.35v1.35h-1.35zM621.85 73.85h1.35v1.35h-1.35z"/><path fill="#ff0a00" d="M623.85 71.85h1.35v1.35h-1.35zM621.85 72.85h1.35v1.35h-1.35zM624.85 73.85h1.35v1.35h-1.35z"/><path fill="#c40000" d="M622.85 72.85h1.35v1.35h-1.35zM624.85 72.85h1.35v1.35h-1.35zM622.85 73.85h2.35v1.35h-2.35z"/><path fill="#7f0000" d="M623.85 72.85h1.35v1.35h-1.35z"/><path fill="#0000f9" d="M402.85 128.85h1.35v1.35h-1.35zM402.85 129.85h4.35v1.35h-4.35zM409.85 129.85h1.35v1.35h-1.35zM401.85 130.85h1.35v1.35h-1.35zM404.85 130.85h2.35v1.35h-2.35zM410.85 130.85h1.35v1.35h-1.35zM402.85 131.85h4.35v1.35h-4.35zM399.85 132.85h2.35v1.35h-2.35zM402.85 132.85h3.35v1.35h-3.35zM400.85 133.85h1.35v1.35h-1.35zM402.85 133.85h2.35v1.35h-2.35zM407.85 133.85h1.35v1.35h-1.35zM400.85 134.85h2.35v1.35h-2.35zM406.85 134.85h1.35v1.35h-1.35zM402.85 135.85h1.35v1.35h-1.35zM404.85 135.85h2.35v1.35h-2.35zM398.85 136.85h1.35v1.35h-1.35zM401.85 136.85h1.35v1.35h-1.35zM404.85 136.85h2.35v1.35h-2.35zM407.85 136.85h2.35v1.35h-2.35zM410.85 136.85h1.35v1.35h-1.35zM400.85 137.85h1.35v1.35h-1.35zM402.85 137.85h1.35v1.35h-1.35zM405.85 137.85h3.35v1.35h-3.35zM410.85 137.85h1.35v1.35h-1.35zM412.85 137.85h1.35v1.35h-1.35zM414.85 137.85h1.35v1.35h-1.35zM399.85 138.85h1.35v1.35h-1.35zM401.85 138.85h1.35v1.35h-1.35zM411.85 138.85h1.35v1.35h-1.35zM400.85 139.85h2.35v1.35h-2.35zM406.85 139.85h2.35v1.35h-2.35zM409.85 139.85h1.35v1.35h-1.35zM413.85 139.85h2.35v1.35h-2.35zM416.85 139.85h1.35v1.35h-1.35zM401.85 140.85h1.35v1.35h-1.35zM407.85 140.85h2.35v1.35h-2.35zM402.85 141.85h1.35v1.35h-1.35zM408.85 141.85h1.35v1.35h-1.35zM410.85 141.85h1.35v1.35h-1.35zM396.85 142.85h1.35v1.35h-1.35zM398.85 142.85h2.35v1.35h-2.35zM403.85 142.85h1.35v1.35h-1.35zM407.85 142.85h1.35v1.35h-1.35zM411.85 142.85h1.35v1.35h-1.35zM397.85 143.85h1.35v1.35h-1.35zM403.85 143.85h2.35v1.35h-2.35zM406.85 143.85h2.35v1.35h-2.35zM395.85 144.85h1.35v1.35h-1.35zM400.85 144.85h1.35v1.35h-1.35zM404.85 144.85h2.35v1.35h-2.35zM407.85 144.85h2.35v1.35h-2.35zM411.85 144.85h1.35v1.35h-1.35zM401.85 145.85h1.35v1.35h-1.35zM403.85 145.85h1.35v1.35h-1.35zM405.85 145.85h1.35v1.35h-1.35zM408.85 145.85h1.35v1.35h-1.35zM410.85 145.85h2.35v1.35h-2.35zM398.85 146.85h1.35v1.35h-1.35zM404.85 146.85h1.35v1.35h-1.35zM407.85 146.85h2.35v1.35h-2.35zM395.85 147.85h1.35v1.35h-1.35zM398.85 147.85h2.35v1.35h-2.35zM405.85 147.85h1.35v1.35h-1.35zM407.85 147.85h5.35v1.35h-5.35zM398.85 148.85h1.35v1.35h-1.35zM407.85 148.85h1.35v1.35h-1.35zM414.85 148.85h1.35v1.35h-1.35zM410.85 149.85h1.35v1.35h-1.35zM397.85 150.85h1.35v1.35h-1.35zM399.85 150.85h1.35v1.35h-1.35zM411.85 150.85h1.35v1.35h-1.35zM408.85 151.85h1.35v1.35h-1.35zM410.85 151.85h2.35v1.35h-2.35zM413.85 151.85h1.35v1.35h-1.35zM398.85 152.85h1.35v1.35h-1.35zM400.85 152.85h1.35v1.35h-1.35zM412.85 152.85h1.35v1.35h-1.35zM409.85 153.85h1.35v1.35h-1.35zM411.85 153.85h2.35v1.35h-2.35zM395.85 154.85h1.35v1.35h-1.35zM399.85 154.85h1.35v1.35h-1.35zM410.85 154.85h1.35v1.35h-1.35zM401.85 155.85h1.35v1.35h-1.35zM409.85 155.85h1.35v1.35h-1.35zM413.85 155.85h1.35v1.35h-1.35zM396.85 156.85h1.35v1.35h-1.35zM398.85 156.85h3.35v1.35h-3.35zM410.85 156.85h2.35v1.35h-2.35zM398.85 157.85h1.35v1.35h-1.35zM400.85 157.85h1.35v1.35h-1.35zM409.85 157.85h2.35v1.35h-2.35zM412.85 157.85h2.35v1.35h-2.35zM401.85 158.85h1.35v1.35h-1.35zM409.85 158.85h1.35v1.35h-1.35zM412.85 158.85h1.35v1.35h-1.35zM398.85 159.85h1.35v1.35h-1.35zM401.85 159.85h1.35v1.35h-1.35zM410.85 159.85h1.35v1.35h-1.35zM413.85 159.85h1.35v1.35h-1.35zM400.85 160.85h2.35v1.35h-2.35zM410.85 160.85h1.35v1.35h-1.35zM414.85 160.85h1.35v1.35h-1.35zM399.85 161.85h2.35v1.35h-2.35zM397.85 162.85h1.35v1.35h-1.35zM400.85 162.85h1.35v1.35h-1.35zM400.85 163.85h1.35v1.35h-1.35zM411.85 163.85h1.35v1.35h-1.35zM413.85 163.85h1.35v1.35h-1.35zM396.85 164.85h2.35v1.35h-2.35zM399.85 164.85h2.35v1.35h-2.35zM409.85 164.85h2.35v1.35h-2.35zM399.85 165.85h1.35v1.35h-1.35zM411.85 165.85h1.35v1.35h-1.35zM397.85 166.85h2.35v1.35h-2.35zM409.85 166.85h2.35v1.35h-2.35zM414.85 166.85h1.35v1.35h-1.35zM399.85 167.85h1.35v1.35h-1.35zM411.85 167.85h1.35v1.35h-1.35zM410.85 168.85h1.35v1.35h-1.35zM396.85 169.85h1.35v1.35h-1.35zM410.85 169.85h1.35v1.35h-1.35zM410.85 170.85h3.35v1.35h-3.35zM412.85 171.85h1.35v1.35h-1.35zM396.85 172.85h3.35v1.35h-3.35zM396.85 173.85h2.35v1.35h-2.35zM413.85 173.85h1.35v1.35h-1.35zM412.85 174.85h2.35v1.35h-2.35zM412.85 175.85h2.35v1.35h-2.35zM397.85 176.85h1.35v1.35h-1.35zM412.85 176.85h2.35v1.35h-2.35zM397.85 177.85h1.35v1.35h-1.35zM411.85 177.85h1.35v1.35h-1.35zM395.85 179.85h1.35v1.35h-1.35zM412.85 179.85h1.35v1.35h-1.35zM415.85 179.85h1.35v1.35h-1.35zM397.85 180.85h1.35v1.35h-1.35zM411.85 180.85h1.35v1.35h-1.35zM411.85 181.85h1.35v1.35h-1.35zM413.85 181.85h1.35v1.35h-1.35zM396.85 182.85h1.35v1.35h-1.35zM395.85 183.85h1.35v1.35h-1.35zM413.85 183.85h1.35v1.35h-1.35zM395.85 184.85h1.35v1.35h-1.35zM410.85 184.85h1.35v1.35h-1.35zM410.85 185.85h1.35v1.35h-1.35zM397.85 186.85h1.35v1.35h-1.35zM413.85 186.85h1.35v1.35h-1.35zM398.85 187.85h1.35v1.35h-1.35z"/><path fill="#003fff" d="M403.85 137.85h1.35v1.35h-1.35zM402.85 138.85h3.35v1.35h-3.35zM402.85 139.85h3.35v1.35h-3.35zM404.85 140.85h1.35v1.35h-1.35zM403.85 141.85h4.35v1.35h-4.35zM404.85 142.85h2.35v1.35h-2.35zM401.85 146.85h3.35v1.35h-3.35zM400.85 147.85h3.35v1.35h-3.35zM404.85 147.85h1.35v1.35h-1.35zM401.85 148.85h2.35v1.35h-2.35zM405.85 148.85h2.35v1.35h-2.35zM400.85 149.85h6.35v1.35h-6.35zM407.85 149.85h1.35v1.35h-1.35zM400.85 150.85h3.35v1.35h-3.35zM404.85 150.85h4.35v1.35h-4.35zM401.85 151.85h1.35v1.35h-1.35zM403.85 151.85h3.35v1.35h-3.35zM407.85 151.85h1.35v1.35h-1.35zM403.85 152.85h1.35v1.35h-1.35zM405.85 152.85h2.35v1.35h-2.35zM408.85 152.85h1.35v1.35h-1.35zM402.85 153.85h6.35v1.35h-6.35zM402.85 154.85h5.35v1.35h-5.35zM408.85 154.85h1.35v1.35h-1.35zM402.85 155.85h1.35v1.35h-1.35zM404.85 155.85h1.35v1.35h-1.35zM406.85 155.85h3.35v1.35h-3.35zM401.85 156.85h1.35v1.35h-1.35zM403.85 156.85h3.35v1.35h-3.35zM407.85 156.85h2.35v1.35h-2.35zM403.85 157.85h2.35v1.35h-2.35zM406.85 157.85h2.35v1.35h-2.35zM402.85 158.85h6.35v1.35h-6.35zM403.85 159.85h1.35v1.35h-1.35zM407.85 159.85h3.35v1.35h-3.35zM402.85 160.85h3.35v1.35h-3.35zM409.85 160.85h1.35v1.35h-1.35zM403.85 161.85h3.35v1.35h-3.35zM408.85 161.85h2.35v1.35h-2.35zM401.85 162.85h4.35v1.35h-4.35zM406.85 162.85h3.35v1.35h-3.35zM401.85 163.85h3.35v1.35h-3.35zM406.85 163.85h1.35v1.35h-1.35zM408.85 163.85h1.35v1.35h-1.35zM401.85 164.85h8.35v1.35h-8.35zM401.85 165.85h3.35v1.35h-3.35zM405.85 165.85h2.35v1.35h-2.35zM401.85 166.85h5.35v1.35h-5.35zM407.85 166.85h2.35v1.35h-2.35zM401.85 167.85h1.35v1.35h-1.35zM405.85 167.85h5.35v1.35h-5.35zM401.85 168.85h1.35v1.35h-1.35zM405.85 168.85h4.35v1.35h-4.35zM399.85 169.85h2.35v1.35h-2.35zM406.85 169.85h4.35v1.35h-4.35zM399.85 170.85h2.35v1.35h-2.35zM408.85 170.85h1.35v1.35h-1.35zM399.85 171.85h2.35v1.35h-2.35zM408.85 172.85h3.35v1.35h-3.35zM398.85 173.85h3.35v1.35h-3.35zM410.85 173.85h2.35v1.35h-2.35zM398.85 174.85h3.35v1.35h-3.35zM409.85 174.85h3.35v1.35h-3.35zM398.85 175.85h1.35v1.35h-1.35zM400.85 175.85h1.35v1.35h-1.35zM410.85 175.85h2.35v1.35h-2.35zM399.85 176.85h1.35v1.35h-1.35zM410.85 176.85h2.35v1.35h-2.35zM398.85 177.85h2.35v1.35h-2.35zM399.85 178.85h1.35v1.35h-1.35zM399.85 179.85h1.35v1.35h-1.35zM410.85 179.85h1.35v1.35h-1.35zM398.85 180.85h1.35v1.35h-1.35zM397.85 181.85h2.35v1.35h-2.35zM410.85 181.85h1.35v1.35h-1.35zM397.85 182.85h1.35v1.35h-1.35zM410.85 182.85h1.35v1.35h-1.35zM409.85 183.85h2.35v1.35h-2.35zM409.85 184.85h1.35v1.35h-1.35zM397.85 185.85h2.35v1.35h-2.35zM408.85 185.85h2.35v1.35h-2.35zM398.85 186.85h2.35v1.35h-2.35zM406.85 186.85h1.35v1.35h-1.35zM401.85 187.85h3.35v1.35h-3.35z"/><path fill="#0084ff" d="M405.85 159.85h2.35v1.35h-2.35zM406.85 160.85h2.35v1.35h-2.35zM406.85 161.85h2.35v1.35h-2.35zM403.85 167.85h2.35v1.35h-2.35zM402.85 168.85h3.35v1.35h-3.35zM401.85 169.85h5.35v1.35h-5.35zM401.85 170.85h5.35v1.35h-5.35zM401.85 171.85h2.35v1.35h-2.35zM405.85 171.85h3.35v1.35h-3.35zM401.85 172.85h2.35v1.35h-2.35zM407.85 172.85h1.35v1.35h-1.35zM401.85 173.85h1.35v1.35h-1.35zM407.85 173.85h2.35v1.35h-2.35zM401.85 174.85h1.35v1.35h-1.35zM408.85 174.85h1.35v1.35h-1.35zM401.85 175.85h1.35v1.35h-1.35zM407.85 175.85h3.35v1.35h-3.35zM400.85 176.85h2.35v1.35h-2.35zM408.85 176.85h2.35v1.35h-2.35zM400.85 177.85h2.35v1.35h-2.35zM408.85 177.85h2.35v1.35h-2.35zM400.85 178.85h1.35v1.35h-1.35zM408.85 178.85h2.35v1.35h-2.35zM400.85 179.85h1.35v1.35h-1.35zM409.85 179.85h1.35v1.35h-1.35zM399.85 180.85h1.35v1.35h-1.35zM409.85 180.85h1.35v1.35h-1.35zM409.85 181.85h1.35v1.35h-1.35zM398.85 182.85h1.35v1.35h-1.35zM409.85 182.85h1.35v1.35h-1.35zM398.85 183.85h1.35v1.35h-1.35zM398.85 184.85h1.35v1.35h-1.35zM399.85 185.85h1.35v1.35h-1.35zM400.85 186.85h1.35v1.35h-1.35z"/><path fill="#00caff" d="M403.85 171.85h2.35v1.35h-2.35zM403.85 172.85h2.35v1.35h-2.35zM406.85 172.85h1.35v1.35h-1.35zM402.85 173.85h2.35v1.35h-2.35zM406.85 173.85h1.35v1.35h-1.35zM402.85 174.85h1.35v1.35h-1.35zM406.85 174.85h2.35v1.35h-2.35zM402.85 175.85h5.35v1.35h-5.35zM402.85 176.85h6.35v1.35h-6.35zM402.85 177.85h1.35v1.35h-1.35zM405.85 177.85h3.35v1.35h-3.35zM401.85 178.85h1.35v1.35h-1.35zM406.85 178.85h2.35v1.35h-2.35zM401.85 179.85h1.35v1.35h-1.35zM407.85 179.85h2.35v1.35h-2.35zM400.85 180.85h1.35v1.35h-1.35zM408.85 180.85h1.35v1.35h-1.35zM399.85 181.85h1.35v1.35h-1.35zM408.85 181.85h1.35v1.35h-1.35zM408.85 182.85h1.35v1.35h-1.35zM408.85 183.85h1.35v1.35h-1.35zM407.85 184.85h1.35v1.35h-1.35zM406.85 185.85h1.35v1.35h-1.35zM401.85 186.85h4.35v1.35h-4.35z"/><path fill="#10ffee" d="M404.85 173.85h2.35v1.35h-2.35zM403.85 174.85h3.35v1.35h-3.35zM403.85 177.85h2.35v1.35h-2.35zM402.85 178.85h4.35v1.35h-4.35zM402.85 179.85h1.35v1.35h-1.35zM406.85 179.85h1.35v1.35h-1.35zM401.85 180.85h1.35v1.35h-1.35zM407.85 180.85h1.35v1.35h-1.35zM400.85 181.85h1.35v1.35h-1.35zM399.85 182.85h1.35v1.35h-1.35zM399.85 183.85h1.35v1.35h-1.35zM399.85 184.85h1.35v1.35h-1.35zM400.85 185.85h1.35v1.35h-1.35zM405.85 185.85h1.35v1.35h-1.35z"/><path fill="#55ffa9" d="M403.85 179.85h3.35v1.35h-3.35zM407.85 181.85h1.35v1.35h-1.35zM407.85 183.85h1.35v1.35h-1.35zM406.85 184.85h1.35v1.35h-1.35z"/><path fill="#9aff64" d="M402.85 180.85h1.35v1.35h-1.35zM406.85 180.85h1.35v1.35h-1.35zM401.85 181.85h1.35v1.35h-1.35zM400.85 182.85h1.35v1.35h-1.35zM407.85 182.85h1.35v1.35h-1.35zM400.85 184.85h1.35v1.35h-1.35zM401.85 185.85h1.35v1.35h-1.35zM404.85 185.85h1.35v1.35h-1.35z"/><path fill="#dfff1f" d="M403.85 180.85h3.35v1.35h-3.35zM406.85 181.85h1.35v1.35h-1.35zM400.85 183.85h1.35v1.35h-1.35zM406.85 183.85h1.35v1.35h-1.35zM405.85 184.85h1.35v1.35h-1.35zM402.85 185.85h2.35v1.35h-2.35z"/><path fill="#ffd900" d="M406.85 182.85h1.35v1.35h-1.35z"/><path fill="#ff9400" d="M402.85 181.85h1.35v1.35h-1.35zM405.85 181.85h1.35v1.35h-1.35zM401.85 182.85h1.35v1.35h-1.35zM401.85 184.85h1.35v1.35h-1.35zM404.85 184.85h1.35v1.35h-1.35z"/><path fill="#ff4f00" d="M403.85 181.85h2.35v1.35h-2.35zM405.85 182.85h1.35v1.35h-1.35zM401.85 183.85h1.35v1.35h-1.35zM405.85 183.85h1.35v1.35h-1.35zM402.85 184.85h1.35v1.35h-1.35z"/><path fill="#ff0a00" d="M402.85 182.85h1.35v1.35h-1.35zM403.85 184.85h1.35v1.35h-1.35z"/><path fill="#c40000" d="M403.85 182.85h2.35v1.35h-2.35zM402.85 183.85h1.35v1.35h-1.35zM404.85 183.85h1.35v1.35h-1.35z"/><path fill="#7f0000" d="M403.85 183.85h1.35v1.35h-1.35z"/><path fill="#0000f9" d="M531.85 135.85h1.35v1.35h-1.35zM544.85 135.85h1.35v1.35h-1.35zM524.85 136.85h1.35v1.35h-1.35zM531.85 137.85h1.35v1.35h-1.35zM537.85 138.85h1.35v1.35h-1.35zM539.85 138.85h3.35v1.35h-3.35zM544.85 138.85h1.35v1.35h-1.35zM535.85 139.85h1.35v1.35h-1.35zM543.85 139.85h1.35v1.35h-1.35zM546.85 139.85h1.35v1.35h-1.35zM541.85 140.85h1.35v1.35h-1.35zM548.85 142.85h1.35v1.35h-1.35zM525.85 143.85h1.35v1.35h-1.35zM529.85 143.85h1.35v1.35h-1.35zM529.85 144.85h1.35v1.35h-1.35zM532.85 145.85h1.35v1.35h-1.35zM531.85 146.85h1.35v1.35h-1.35zM533.85 146.85h1.35v1.35h-1.35zM543.85 147.85h1.35v1.35h-1.35zM545.85 147.85h1.35v1.35h-1.35zM532.85 148.85h2.35v1.35h-2.35zM527.85 149.85h1.35v1.35h-1.35zM529.85 149.85h1.35v1.35h-1.35zM547.85 149.85h1.35v1.35h-1.35zM529.85 150.85h1.35v1.35h-1.35zM537.85 150.85h1.35v1.35h-1.35zM526.85 151.85h1.35v1.35h-1.35zM546.85 151.85h1.35v1.35h-1.35zM548.85 151.85h1.35v1.35h-1.35zM546.85 152.85h1.35v1.35h-1.35zM533.85 153.85h2.35v1.35h-2.35zM524.85 154.85h1.35v1.35h-1.35zM529.85 155.85h1.35v1.35h-1.35zM533.85 155.85h1.35v1.35h-1.35zM536.85 155.85h1.35v1.35h-1.35zM538.85 155.85h1.35v1.35h-1.35zM523.85 156.85h1.35v1.35h-1.35zM532.85 156.85h1.35v1.35h-1.35zM534.85 156.85h1.35v1.35h-1.35zM536.85 156.85h1.35v1.35h-1.35zM542.85 156.85h2.35v1.35h-2.35zM545.85 156.85h1.35v1.35h-1.35zM523.85 157.85h1.35v1.35h-1.35zM534.85 157.85h1.35v1.35h-1.35zM536.85 157.85h1.35v1.35h-1.35zM538.85 157.85h1.35v1.35h-1.35zM541.85 157.85h1.35v1.35h-1.35zM535.85 158.85h2.35v1.35h-2.35zM539.85 158.85h3.35v1.35h-3.35zM548.85 158.85h1.35v1.35h-1.35zM528.85 159.85h1.35v1.35h-1.35zM530.85 159.85h1.35v1.35h-1.35zM533.85 159.85h7.35v1.35h-7.35zM543.85 159.85h1.35v1.35h-1.35zM546.85 159.85h2.35v1.35h-2.35zM530.85 160.85h1.35v1.35h-1.35zM532.85 160.85h1.35v1.35h-1.35zM535.85 160.85h1.35v1.35h-1.35zM542.85 160.85h1.35v1.35h-1.35zM545.85 160.85h1.35v1.35h-1.35zM536.85 161.85h1.35v1.35h-1.35zM542.85 161.85h1.35v1.35h-1.35zM533.85 162.85h1.35v1.35h-1.35zM541.85 162.85h1.35v1.35h-1.35zM545.85 162.85h1.35v1.35h-1.35zM528.85 163.85h1.35v1.35h-1.35zM534.85 163.85h1.35v1.35h-1.35zM536.85 163.85h2.35v1.35h-2.35zM539.85 163.85h1.35v1.35h-1.35zM541.85 163.85h1.35v1.35h-1.35zM533.85 164.85h1.35v1.35h-1.35zM536.85 164.85h3.35v1.35h-3.35zM533.85 165.85h1.35v1.35h-1.35zM537.85 165.85h2.35v1.35h-2.35zM529.85 166.85h1.35v1.35h-1.35zM532.85 166.85h1.35v1.35h-1.35zM535.85 166.85h2.35v1.35h-2.35zM538.85 166.85h2.35v1.35h-2.35zM542.85 166.85h2.35v1.35h-2.35zM530.85 167.85h1.35v1.35h-1.35zM532.85 167.85h3.35v1.35h-3.35zM539.85 167.85h2.35v1.35h-2.35zM543.85 167.85h1.35v1.35h-1.35zM524.85 168.85h1.35v1.35h-1.35zM528.85 168.85h3.35v1.35h-3.35zM534.85 168.85h1.35v1.35h-1.35zM537.85 168.85h2.35v1.35h-2.35zM542.85 168.85h1.35v1.35h-1.35zM525.85 169.85h1.35v1.35h-1.35zM527.85 169.85h1.35v1.35h-1.35zM530.85 169.85h1.35v1.35h-1.35zM532.85 169.85h1.35v1.35h-1.35zM535.85 169.85h2.35v1.35h-2.35zM538.85 169.85h1.35v1.35h-1.35zM540.85 169.85h2.35v1.35h-2.35zM544.85 169.85h1.35v1.35h-1.35zM546.85 169.85h1.35v1.35h-1.35zM528.85 170.85h1.35v1.35h-1.35zM532.85 170.85h5.35v1.35h-5.35zM538.85 170.85h1.35v1.35h-1.35zM540.85 170.85h3.35v1.35h-3.35zM544.85 170.85h1.35v1.35h-1.35zM524.85 171.85h3.35v1.35h-3.35zM528.85 171.85h1.35v1.35h-1.35zM530.85 171.85h2.35v1.35h-2.35zM533.85 171.85h3.35v1.35h-3.35zM537.85 171.85h3.35v1.35h-3.35zM525.85 172.85h1.35v1.35h-1.35zM530.85 172.85h1.35v1.35h-1.35zM533.85 172.85h1.35v1.35h-1.35zM535.85 172.85h3.35v1.35h-3.35zM539.85 172.85h1.35v1.35h-1.35zM541.85 172.85h1.35v1.35h-1.35zM544.85 172.85h1.35v1.35h-1.35zM527.85 173.85h2.35v1.35h-2.35zM531.85 173.85h5.35v1.35h-5.35zM537.85 173.85h1.35v1.35h-1.35zM539.85 173.85h2.35v1.35h-2.35zM543.85 173.85h1.35v1.35h-1.35zM527.85 174.85h1.35v1.35h-1.35zM530.85 174.85h12.35v1.35h-12.35zM543.85 174.85h1.35v1.35h-1.35zM529.85 175.85h5.35v1.35h-5.35zM536.85 175.85h6.35v1.35h-6.35zM543.85 175.85h2.35v1.35h-2.35zM546.85 175.85h1.35v1.35h-1.35zM548.85 175.85h1.35v1.35h-1.35zM524.85 176.85h1.35v1.35h-1.35zM526.85 176.85h2.35v1.35h-2.35zM529.85 176.85h3.35v1.35h-3.35zM534.85 176.85h2.35v1.35h-2.35zM537.85 176.85h3.35v1.35h-3.35zM541.85 176.85h1.35v1.35h-1.35zM543.85 176.85h1.35v1.35h-1.35zM547.85 176.85h1.35v1.35h-1.35zM527.85 177.85h1.35v1.35h-1.35zM529.85 177.85h4.35v1.35h-4.35zM534.85 177.85h2.35v1.35h-2.35zM537.85 177.85h4.35v1.35h-4.35zM544.85 177.85h2.35v1.35h-2.35zM547.85 177.85h1.35v1.35h-1.35zM524.85 178.85h1.35v1.35h-1.35zM527.85 178.85h1.35v1.35h-1.35zM529.85 178.85h6.35v1.35h-6.35zM536.85 178.85h9.35v1.35h-9.35zM526.85 179.85h1.35v1.35h-1.35zM528.85 179.85h2.35v1.35h-2.35zM532.85 179.85h3.35v1.35h-3.35zM539.85 179.85h4.35v1.35h-4.35zM547.85 179.85h1.35v1.35h-1.35zM523.85 180.85h2.35v1.35h-2.35zM526.85 180.85h1.35v1.35h-1.35zM537.85 180.85h2.35v1.35h-2.35zM540.85 180.85h2.35v1.35h-2.35zM546.85 180.85h3.35v1.35h-3.35zM522.85 181.85h1.35v1.35h-1.35zM524.85 181.85h5.35v1.35h-5.35zM540.85 181.85h2.35v1.35h-2.35zM543.85 181.85h1.35v1.35h-1.35zM545.85 181.85h3.35v1.35h-3.35zM525.85 182.85h3.35v1.35h-3.35zM545.85 182.85h1.35v1.35h-1.35zM522.85 183.85h4.35v1.35h-4.35zM544.85 183.85h1.35v1.35h-1.35zM546.85 183.85h3.35v1.35h-3.35zM522.85 184.85h1.35v1.35h-1.35zM524.85 184.85h1.35v1.35h-1.35zM545.85 184.85h4.35v1.35h-4.35zM522.85 185.85h3.35v1.35h-3.35zM545.85 185.85h3.35v1.35h-3.35zM522.85 186.85h3.35v1.35h-3.35zM545.85 186.85h3.35v1.35h-3.35zM522.85 187.85h3.35v1.35h-3.35zM544.85 187.85h3.35v1.35h-3.35zM522.85 188.85h1.35v1.35h-1.35zM524.85 188.85h2.35v1.35h-2.35zM543.85 188.85h3.35v1.35h-3.35zM547.85 188.85h1.35v1.35h-1.35zM523.85 189.85h1.35v1.35h-1.35zM541.85 189.85h1.35v1.35h-1.35z"/><path fill="#003fff" d="M531.85 180.85h6.35v1.35h-6.35zM529.85 181.85h10.35v1.35h-10.35zM528.85 182.85h3.35v1.35h-3.35zM540.85 182.85h3.35v1.35h-3.35zM526.85 183.85h1.35v1.35h-1.35zM528.85 183.85h1.35v1.35h-1.35zM540.85 183.85h4.35v1.35h-4.35zM525.85 184.85h3.35v1.35h-3.35zM542.85 184.85h3.35v1.35h-3.35zM525.85 185.85h2.35v1.35h-2.35zM542.85 185.85h3.35v1.35h-3.35zM525.85 186.85h2.35v1.35h-2.35zM542.85 186.85h3.35v1.35h-3.35zM525.85 187.85h2.35v1.35h-2.35zM541.85 187.85h3.35v1.35h-3.35zM526.85 188.85h2.35v1.35h-2.35zM540.85 188.85h3.35v1.35h-3.35zM527.85 189.85h2.35v1.35h-2.35zM537.85 189.85h3.35v1.35h-3.35z"/><path fill="#0084ff" d="M531.85 182.85h7.35v1.35h-7.35zM529.85 183.85h1.35v1.35h-1.35zM538.85 183.85h2.35v1.35h-2.35zM528.85 184.85h1.35v1.35h-1.35zM540.85 184.85h2.35v1.35h-2.35zM527.85 185.85h1.35v1.35h-1.35zM541.85 185.85h1.35v1.35h-1.35zM527.85 186.85h1.35v1.35h-1.35zM540.85 186.85h2.35v1.35h-2.35zM527.85 187.85h1.35v1.35h-1.35zM540.85 187.85h1.35v1.35h-1.35zM538.85 188.85h2.35v1.35h-2.35zM529.85 189.85h1.35v1.35h-1.35zM536.85 189.85h1.35v1.35h-1.35z"/><path fill="#00caff" d="M530.85 183.85h2.35v1.35h-2.35zM537.85 183.85h1.35v1.35h-1.35zM529.85 184.85h1.35v1.35h-1.35zM539.85 184.85h1.35v1.35h-1.35zM528.85 185.85h1.35v1.35h-1.35zM539.85 185.85h2.35v1.35h-2.35zM539.85 186.85h1.35v1.35h-1.35zM539.85 187.85h1.35v1.35h-1.35zM528.85 188.85h1.35v1.35h-1.35zM537.85 188.85h1.35v1.35h-1.35zM530.85 189.85h1.35v1.35h-1.35zM535.85 189.85h1.35v1.35h-1.35z"/><path fill="#10ffee" d="M532.85 183.85h5.35v1.35h-5.35zM538.85 184.85h1.35v1.35h-1.35zM528.85 186.85h1.35v1.35h-1.35zM528.85 187.85h1.35v1.35h-1.35zM538.85 187.85h1.35v1.35h-1.35zM529.85 188.85h1.35v1.35h-1.35zM532.85 189.85h2.35v1.35h-2.35z"/><path fill="#55ffa9" d="M530.85 184.85h1.35v1.35h-1.35zM537.85 184.85h1.35v1.35h-1.35zM529.85 185.85h1.35v1.35h-1.35zM538.85 185.85h1.35v1.35h-1.35zM538.85 186.85h1.35v1.35h-1.35zM536.85 188.85h1.35v1.35h-1.35z"/><path fill="#9aff64" d="M531.85 184.85h1.35v1.35h-1.35zM535.85 184.85h2.35v1.35h-2.35zM537.85 185.85h1.35v1.35h-1.35zM529.85 187.85h1.35v1.35h-1.35zM537.85 187.85h1.35v1.35h-1.35zM530.85 188.85h1.35v1.35h-1.35zM535.85 188.85h1.35v1.35h-1.35z"/><path fill="#dfff1f" d="M532.85 184.85h3.35v1.35h-3.35zM529.85 186.85h1.35v1.35h-1.35zM537.85 186.85h1.35v1.35h-1.35zM536.85 187.85h1.35v1.35h-1.35zM531.85 188.85h1.35v1.35h-1.35zM534.85 188.85h1.35v1.35h-1.35z"/><path fill="#ffd900" d="M530.85 185.85h1.35v1.35h-1.35zM536.85 185.85h1.35v1.35h-1.35zM532.85 188.85h2.35v1.35h-2.35z"/><path fill="#ff9400" d="M531.85 185.85h1.35v1.35h-1.35zM535.85 185.85h1.35v1.35h-1.35zM536.85 186.85h1.35v1.35h-1.35zM530.85 187.85h1.35v1.35h-1.35zM535.85 187.85h1.35v1.35h-1.35z"/><path fill="#ff4f00" d="M532.85 185.85h1.35v1.35h-1.35zM534.85 185.85h1.35v1.35h-1.35zM530.85 186.85h1.35v1.35h-1.35z"/><path fill="#ff0a00" d="M533.85 185.85h1.35v1.35h-1.35zM535.85 186.85h1.35v1.35h-1.35zM531.85 187.85h1.35v1.35h-1.35zM534.85 187.85h1.35v1.35h-1.35z"/><path fill="#c40000" d="M531.85 186.85h1.35v1.35h-1.35zM534.85 186.85h1.35v1.35h-1.35zM532.85 187.85h2.35v1.35h-2.35z"/><path fill="#7f0000" d="M532.85 186.85h2.35v1.35h-2.35z"/><path fill="#0000f9" d="M625.85 138.85h1.35v1.35h-1.35zM633.85 138.85h1.35v1.35h-1.35zM620.85 139.85h1.35v1.35h-1.35zM627.85 139.85h1.35v1.35h-1.35zM626.85 140.85h1.35v1.35h-1.35zM610.85 142.85h1.35v1.35h-1.35zM609.85 143.85h1.35v1.35h-1.35zM616.85 143.85h1.35v1.35h-1.35zM619.85 143.85h1.35v1.35h-1.35zM631.85 143.85h1.35v1.35h-1.35zM610.85 144.85h1.35v1.35h-1.35zM613.85 145.85h1.35v1.35h-1.35zM619.85 145.85h1.35v1.35h-1.35zM629.85 145.85h1.35v1.35h-1.35zM632.85 145.85h1.35v1.35h-1.35zM613.85 146.85h1.35v1.35h-1.35zM627.85 146.85h1.35v1.35h-1.35zM625.85 147.85h1.35v1.35h-1.35zM634.85 147.85h1.35v1.35h-1.35zM612.85 148.85h1.35v1.35h-1.35zM618.85 148.85h1.35v1.35h-1.35zM619.85 149.85h1.35v1.35h-1.35zM631.85 149.85h1.35v1.35h-1.35zM618.85 150.85h1.35v1.35h-1.35zM626.85 150.85h1.35v1.35h-1.35zM620.85 151.85h1.35v1.35h-1.35zM624.85 151.85h1.35v1.35h-1.35zM611.85 153.85h1.35v1.35h-1.35zM612.85 154.85h3.35v1.35h-3.35zM616.85 154.85h1.35v1.35h-1.35zM618.85 154.85h1.35v1.35h-1.35zM615.85 155.85h1.35v1.35h-1.35zM627.85 155.85h1.35v1.35h-1.35zM634.85 155.85h1.35v1.35h-1.35zM624.85 156.85h1.35v1.35h-1.35zM614.85 157.85h1.35v1.35h-1.35zM620.85 157.85h2.35v1.35h-2.35zM626.85 157.85h1.35v1.35h-1.35zM616.85 158.85h4.35v1.35h-4.35zM621.85 158.85h1.35v1.35h-1.35zM623.85 158.85h1.35v1.35h-1.35zM627.85 158.85h1.35v1.35h-1.35zM633.85 158.85h1.35v1.35h-1.35zM612.85 159.85h1.35v1.35h-1.35zM614.85 159.85h1.35v1.35h-1.35zM616.85 159.85h2.35v1.35h-2.35zM619.85 159.85h1.35v1.35h-1.35zM621.85 159.85h1.35v1.35h-1.35zM624.85 159.85h1.35v1.35h-1.35zM626.85 159.85h1.35v1.35h-1.35zM634.85 159.85h1.35v1.35h-1.35zM614.85 160.85h1.35v1.35h-1.35zM618.85 160.85h1.35v1.35h-1.35zM623.85 160.85h1.35v1.35h-1.35zM625.85 160.85h1.35v1.35h-1.35zM627.85 160.85h1.35v1.35h-1.35zM629.85 160.85h1.35v1.35h-1.35zM631.85 160.85h1.35v1.35h-1.35zM610.85 161.85h1.35v1.35h-1.35zM613.85 161.85h1.35v1.35h-1.35zM618.85 161.85h5.35v1.35h-5.35zM625.85 161.85h3.35v1.35h-3.35zM613.85 162.85h1.35v1.35h-1.35zM619.85 162.85h2.35v1.35h-2.35zM625.85 162.85h1.35v1.35h-1.35zM627.85 162.85h1.35v1.35h-1.35zM610.85 163.85h1.35v1.35h-1.35zM613.85 163.85h1.35v1.35h-1.35zM615.85 163.85h2.35v1.35h-2.35zM622.85 163.85h2.35v1.35h-2.35zM628.85 163.85h2.35v1.35h-2.35zM631.85 163.85h2.35v1.35h-2.35zM613.85 164.85h1.35v1.35h-1.35zM616.85 164.85h3.35v1.35h-3.35zM620.85 164.85h1.35v1.35h-1.35zM622.85 164.85h2.35v1.35h-2.35zM625.85 164.85h2.35v1.35h-2.35zM629.85 164.85h1.35v1.35h-1.35zM614.85 165.85h1.35v1.35h-1.35zM616.85 165.85h1.35v1.35h-1.35zM618.85 165.85h4.35v1.35h-4.35zM623.85 165.85h1.35v1.35h-1.35zM625.85 165.85h1.35v1.35h-1.35zM628.85 165.85h1.35v1.35h-1.35zM613.85 166.85h1.35v1.35h-1.35zM615.85 166.85h1.35v1.35h-1.35zM617.85 166.85h2.35v1.35h-2.35zM622.85 166.85h4.35v1.35h-4.35zM627.85 166.85h1.35v1.35h-1.35zM609.85 167.85h3.35v1.35h-3.35zM614.85 167.85h9.35v1.35h-9.35zM625.85 167.85h2.35v1.35h-2.35zM611.85 168.85h1.35v1.35h-1.35zM616.85 168.85h1.35v1.35h-1.35zM618.85 168.85h8.35v1.35h-8.35zM627.85 168.85h2.35v1.35h-2.35zM630.85 168.85h2.35v1.35h-2.35zM610.85 169.85h3.35v1.35h-3.35zM615.85 169.85h4.35v1.35h-4.35zM620.85 169.85h3.35v1.35h-3.35zM624.85 169.85h2.35v1.35h-2.35zM627.85 169.85h2.35v1.35h-2.35zM612.85 170.85h6.35v1.35h-6.35zM619.85 170.85h6.35v1.35h-6.35zM626.85 170.85h2.35v1.35h-2.35zM630.85 170.85h1.35v1.35h-1.35zM613.85 171.85h16.35v1.35h-16.35zM611.85 172.85h2.35v1.35h-2.35zM614.85 172.85h2.35v1.35h-2.35zM617.85 172.85h1.35v1.35h-1.35zM619.85 172.85h4.35v1.35h-4.35zM626.85 172.85h2.35v1.35h-2.35zM631.85 172.85h1.35v1.35h-1.35zM612.85 173.85h2.35v1.35h-2.35zM616.85 173.85h3.35v1.35h-3.35zM622.85 173.85h3.35v1.35h-3.35zM626.85 173.85h1.35v1.35h-1.35zM630.85 173.85h1.35v1.35h-1.35zM634.85 173.85h1.35v1.35h-1.35zM611.85 174.85h1.35v1.35h-1.35zM613.85 174.85h5.35v1.35h-5.35zM623.85 174.85h6.35v1.35h-6.35zM634.85 174.85h1.35v1.35h-1.35zM609.85 175.85h1.35v1.35h-1.35zM612.85 175.85h1.35v1.35h-1.35zM614.85 175.85h3.35v1.35h-3.35zM623.85 175.85h1.35v1.35h-1.35zM625.85 175.85h6.35v1.35h-6.35zM632.85 175.85h1.35v1.35h-1.35zM612.85 176.85h5.35v1.35h-5.35zM623.85 176.85h6.35v1.35h-6.35zM631.85 176.85h1.35v1.35h-1.35zM610.85 177.85h5.35v1.35h-5.35zM616.85 177.85h1.35v1.35h-1.35zM623.85 177.85h6.35v1.35h-6.35zM630.85 177.85h2.35v1.35h-2.35zM609.85 178.85h1.35v1.35h-1.35zM611.85 178.85h3.35v1.35h-3.35zM615.85 178.85h1.35v1.35h-1.35zM624.85 178.85h5.35v1.35h-5.35zM632.85 178.85h1.35v1.35h-1.35zM634.85 178.85h1.35v1.35h-1.35zM610.85 179.85h4.35v1.35h-4.35zM626.85 179.85h3.35v1.35h-3.35zM631.85 179.85h2.35v1.35h-2.35zM611.85 180.85h1.35v1.35h-1.35zM628.85 180.85h4.35v1.35h-4.35zM633.85 180.85h2.35v1.35h-2.35zM609.85 181.85h2.35v1.35h-2.35zM630.85 181.85h4.35v1.35h-4.35zM609.85 182.85h1.35v1.35h-1.35zM631.85 182.85h4.35v1.35h-4.35zM631.85 183.85h1.35v1.35h-1.35zM634.85 183.85h1.35v1.35h-1.35zM632.85 184.85h2.35v1.35h-2.35zM631.85 185.85h4.35v1.35h-4.35zM630.85 186.85h4.35v1.35h-4.35zM629.85 187.85h4.35v1.35h-4.35zM634.85 187.85h1.35v1.35h-1.35zM626.85 188.85h1.35v1.35h-1.35zM628.85 188.85h4.35v1.35h-4.35z"/><path fill="#003fff" d="M620.85 173.85h1.35v1.35h-1.35zM618.85 174.85h5.35v1.35h-5.35zM617.85 175.85h6.35v1.35h-6.35zM617.85 176.85h6.35v1.35h-6.35zM617.85 177.85h1.35v1.35h-1.35zM619.85 177.85h4.35v1.35h-4.35zM616.85 178.85h2.35v1.35h-2.35zM619.85 178.85h5.35v1.35h-5.35zM614.85 179.85h2.35v1.35h-2.35zM617.85 179.85h9.35v1.35h-9.35zM612.85 180.85h6.35v1.35h-6.35zM622.85 180.85h1.35v1.35h-1.35zM624.85 180.85h2.35v1.35h-2.35zM627.85 180.85h1.35v1.35h-1.35zM611.85 181.85h4.35v1.35h-4.35zM625.85 181.85h5.35v1.35h-5.35zM610.85 182.85h2.35v1.35h-2.35zM627.85 182.85h4.35v1.35h-4.35zM610.85 183.85h1.35v1.35h-1.35zM628.85 183.85h3.35v1.35h-3.35zM609.85 184.85h1.35v1.35h-1.35zM628.85 184.85h4.35v1.35h-4.35zM609.85 185.85h1.35v1.35h-1.35zM627.85 185.85h2.35v1.35h-2.35zM630.85 185.85h1.35v1.35h-1.35zM609.85 186.85h1.35v1.35h-1.35zM626.85 186.85h4.35v1.35h-4.35zM609.85 187.85h1.35v1.35h-1.35zM625.85 187.85h3.35v1.35h-3.35zM610.85 188.85h1.35v1.35h-1.35zM623.85 188.85h2.35v1.35h-2.35z"/><path fill="#0084ff" d="M618.85 180.85h4.35v1.35h-4.35zM615.85 181.85h3.35v1.35h-3.35zM622.85 181.85h3.35v1.35h-3.35zM612.85 182.85h2.35v1.35h-2.35zM624.85 182.85h3.35v1.35h-3.35zM611.85 183.85h1.35v1.35h-1.35zM625.85 183.85h3.35v1.35h-3.35zM610.85 184.85h1.35v1.35h-1.35zM626.85 184.85h2.35v1.35h-2.35zM610.85 185.85h1.35v1.35h-1.35zM626.85 185.85h1.35v1.35h-1.35zM610.85 186.85h1.35v1.35h-1.35zM625.85 186.85h1.35v1.35h-1.35zM610.85 187.85h1.35v1.35h-1.35zM624.85 187.85h1.35v1.35h-1.35zM611.85 188.85h1.35v1.35h-1.35zM622.85 188.85h1.35v1.35h-1.35z"/><path fill="#00caff" d="M618.85 181.85h4.35v1.35h-4.35zM614.85 182.85h2.35v1.35h-2.35zM623.85 182.85h1.35v1.35h-1.35zM612.85 183.85h1.35v1.35h-1.35zM624.85 183.85h1.35v1.35h-1.35zM611.85 184.85h1.35v1.35h-1.35zM625.85 184.85h1.35v1.35h-1.35zM625.85 185.85h1.35v1.35h-1.35zM624.85 186.85h1.35v1.35h-1.35zM611.85 187.85h1.35v1.35h-1.35zM623.85 187.85h1.35v1.35h-1.35zM612.85 188.85h1.35v1.35h-1.35zM620.85 188.85h2.35v1.35h-2.35z"/><path fill="#10ffee" d="M616.85 182.85h2.35v1.35h-2.35zM621.85 182.85h2.35v1.35h-2.35zM613.85 183.85h2.35v1.35h-2.35zM623.85 183.85h1.35v1.35h-1.35zM612.85 184.85h1.35v1.35h-1.35zM624.85 184.85h1.35v1.35h-1.35zM611.85 185.85h1.35v1.35h-1.35zM624.85 185.85h1.35v1.35h-1.35zM611.85 186.85h1.35v1.35h-1.35zM623.85 186.85h1.35v1.35h-1.35zM622.85 187.85h1.35v1.35h-1.35zM613.85 188.85h2.35v1.35h-2.35zM619.85 188.85h1.35v1.35h-1.35z"/><path fill="#55ffa9" d="M618.85 182.85h3.35v1.35h-3.35zM615.85 183.85h1.35v1.35h-1.35zM622.85 183.85h1.35v1.35h-1.35zM623.85 184.85h1.35v1.35h-1.35zM623.85 185.85h1.35v1.35h-1.35zM612.85 187.85h1.35v1.35h-1.35zM621.85 187.85h1.35v1.35h-1.35zM615.85 188.85h4.35v1.35h-4.35z"/><path fill="#9aff64" d="M616.85 183.85h1.35v1.35h-1.35zM621.85 183.85h1.35v1.35h-1.35zM613.85 184.85h1.35v1.35h-1.35zM612.85 185.85h1.35v1.35h-1.35zM612.85 186.85h1.35v1.35h-1.35zM622.85 186.85h1.35v1.35h-1.35zM613.85 187.85h1.35v1.35h-1.35z"/><path fill="#dfff1f" d="M617.85 183.85h4.35v1.35h-4.35zM614.85 184.85h1.35v1.35h-1.35zM622.85 184.85h1.35v1.35h-1.35zM622.85 185.85h1.35v1.35h-1.35zM620.85 187.85h1.35v1.35h-1.35z"/><path fill="#ffd900" d="M615.85 184.85h1.35v1.35h-1.35zM621.85 184.85h1.35v1.35h-1.35zM613.85 185.85h1.35v1.35h-1.35zM613.85 186.85h1.35v1.35h-1.35zM621.85 186.85h1.35v1.35h-1.35zM614.85 187.85h1.35v1.35h-1.35zM619.85 187.85h1.35v1.35h-1.35z"/><path fill="#ff9400" d="M616.85 184.85h1.35v1.35h-1.35zM620.85 184.85h1.35v1.35h-1.35zM614.85 185.85h1.35v1.35h-1.35zM621.85 185.85h1.35v1.35h-1.35zM615.85 187.85h1.35v1.35h-1.35zM618.85 187.85h1.35v1.35h-1.35z"/><path fill="#ff4f00" d="M617.85 184.85h1.35v1.35h-1.35zM619.85 184.85h1.35v1.35h-1.35zM614.85 186.85h1.35v1.35h-1.35zM620.85 186.85h1.35v1.35h-1.35zM616.85 187.85h2.35v1.35h-2.35z"/><path fill="#ff0a00" d="M618.85 184.85h1.35v1.35h-1.35zM615.85 185.85h1.35v1.35h-1.35zM620.85 185.85h1.35v1.35h-1.35z"/><path fill="#c40000" d="M616.85 185.85h1.35v1.35h-1.35zM619.85 185.85h1.35v1.35h-1.35zM615.85 186.85h1.35v1.35h-1.35zM619.85 186.85h1.35v1.35h-1.35z"/><path fill="#7f0000" d="M617.85 185.85h2.35v1.35h-2.35zM616.85 186.85h3.35v1.35h-3.35z"/></g><line x1="427.60" y1="8.90" x2="427.60" y2="102.70" stroke="#111" stroke-width="1.0"/><line x1="380.90" y1="74.40" x2="464.50" y2="74.40" stroke="#111" stroke-width="1.0"/><text x="382.00" y="16.60" font-size="3.9" text-anchor="start" fill="#444">Q1</text><text x="382.00" y="22.20" font-size="3.9" text-anchor="start" fill="#444">10.2</text><text x="463.00" y="16.60" font-size="3.9" text-anchor="end" fill="#444">Q2</text><text x="463.00" y="22.20" font-size="3.9" text-anchor="end" fill="#444">0</text><text x="382.00" y="92.20" font-size="3.9" text-anchor="start" fill="#444">Q4</text><text x="382.00" y="98.00" font-size="3.9" text-anchor="start" fill="#444">89.8</text><text x="463.00" y="92.20" font-size="3.9" text-anchor="end" fill="#444">Q3</text><text x="463.00" y="98.00" font-size="3.9" text-anchor="end" fill="#444">0</text><line x1="515.50" y1="8.90" x2="515.50" y2="102.70" stroke="#111" stroke-width="1.0"/><line x1="468.40" y1="74.40" x2="552.50" y2="74.40" stroke="#111" stroke-width="1.0"/><text x="469.50" y="16.60" font-size="3.9" text-anchor="start" fill="#444">Q1</text><text x="469.50" y="22.20" font-size="3.9" text-anchor="start" fill="#444">0</text><text x="551.00" y="16.60" font-size="3.9" text-anchor="end" fill="#444">Q2</text><text x="551.00" y="22.20" font-size="3.9" text-anchor="end" fill="#444">0.33</text><text x="469.50" y="92.20" font-size="3.9" text-anchor="start" fill="#444">Q4</text><text x="469.50" y="98.00" font-size="3.9" text-anchor="start" fill="#444">0</text><text x="551.00" y="92.20" font-size="3.9" text-anchor="end" fill="#444">Q3</text><text x="551.00" y="98.00" font-size="3.9" text-anchor="end" fill="#444">99.7</text><line x1="602.60" y1="8.90" x2="602.60" y2="102.70" stroke="#111" stroke-width="1.0"/><line x1="555.70" y1="74.40" x2="640.00" y2="74.40" stroke="#111" stroke-width="1.0"/><text x="556.80" y="16.60" font-size="3.9" text-anchor="start" fill="#444">Q1</text><text x="556.80" y="22.20" font-size="3.9" text-anchor="start" fill="#444">0</text><text x="638.50" y="16.60" font-size="3.9" text-anchor="end" fill="#444">Q2</text><text x="638.50" y="22.20" font-size="3.9" text-anchor="end" fill="#444">72.0</text><text x="556.80" y="92.20" font-size="3.9" text-anchor="start" fill="#444">Q4</text><text x="556.80" y="98.00" font-size="3.9" text-anchor="start" fill="#444">0</text><text x="638.50" y="92.20" font-size="3.9" text-anchor="end" fill="#444">Q3</text><text x="638.50" y="98.00" font-size="3.9" text-anchor="end" fill="#444">28.0</text><line x1="427.60" y1="117.10" x2="427.60" y2="210.10" stroke="#111" stroke-width="1.0"/><line x1="380.90" y1="182.30" x2="464.70" y2="182.30" stroke="#111" stroke-width="1.0"/><text x="382.00" y="124.80" font-size="3.9" text-anchor="start" fill="#444">Q1</text><text x="382.00" y="130.40" font-size="3.9" text-anchor="start" fill="#444">55.3</text><text x="463.20" y="124.80" font-size="3.9" text-anchor="end" fill="#444">Q2</text><text x="463.20" y="130.40" font-size="3.9" text-anchor="end" fill="#444">0</text><text x="382.00" y="199.60" font-size="3.9" text-anchor="start" fill="#444">Q4</text><text x="382.00" y="205.40" font-size="3.9" text-anchor="start" fill="#444">51.4</text><text x="463.20" y="199.60" font-size="3.9" text-anchor="end" fill="#444">Q3</text><text x="463.20" y="205.40" font-size="3.9" text-anchor="end" fill="#444">0</text><line x1="515.30" y1="117.10" x2="515.30" y2="210.10" stroke="#111" stroke-width="1.0"/><line x1="467.90" y1="181.60" x2="552.10" y2="181.60" stroke="#111" stroke-width="1.0"/><text x="469.00" y="124.80" font-size="3.9" text-anchor="start" fill="#444">Q1</text><text x="469.00" y="130.40" font-size="3.9" text-anchor="start" fill="#444">0</text><text x="550.60" y="124.80" font-size="3.9" text-anchor="end" fill="#444">Q2</text><text x="550.60" y="130.40" font-size="3.9" text-anchor="end" fill="#444">3.50</text><text x="469.00" y="199.60" font-size="3.9" text-anchor="start" fill="#444">Q4</text><text x="469.00" y="205.40" font-size="3.9" text-anchor="start" fill="#444">0</text><text x="550.60" y="199.60" font-size="3.9" text-anchor="end" fill="#444">Q3</text><text x="550.60" y="205.40" font-size="3.9" text-anchor="end" fill="#444">96.5</text><line x1="602.90" y1="117.10" x2="602.90" y2="210.10" stroke="#111" stroke-width="1.0"/><line x1="555.90" y1="181.60" x2="640.00" y2="181.60" stroke="#111" stroke-width="1.0"/><text x="557.00" y="124.80" font-size="3.9" text-anchor="start" fill="#444">Q1</text><text x="557.00" y="130.40" font-size="3.9" text-anchor="start" fill="#444">0</text><text x="638.50" y="124.80" font-size="3.9" text-anchor="end" fill="#444">Q2</text><text x="638.50" y="130.40" font-size="3.9" text-anchor="end" fill="#444">8.80</text><text x="557.00" y="199.60" font-size="3.9" text-anchor="start" fill="#444">Q4</text><text x="557.00" y="205.40" font-size="3.9" text-anchor="start" fill="#444">0</text><text x="638.50" y="199.60" font-size="3.9" text-anchor="end" fill="#444">Q3</text><text x="638.50" y="205.40" font-size="3.9" text-anchor="end" fill="#444">91.2</text><line x1="376.40" y1="11.00" x2="376.40" y2="221.40" stroke="#000" stroke-width="2.8"/><path d="M372.9 11.8 L376.4 5.0 L379.9 11.8 Z" fill="#000"/><line x1="375.00" y1="220.90" x2="636.00" y2="220.90" stroke="#000" stroke-width="2.6"/><path d="M635.5 217.4 L642.6 220.9 L635.5 224.4 Z" fill="#000"/><text x="369.00" y="100.30" font-size="14" text-anchor="middle" fill="#000" font-weight="bold" textLength="29.40" lengthAdjust="spacingAndGlyphs" transform="rotate(-90 369.00 100.30)">CFSE</text><text x="343.60" y="11.90" font-size="13.5" text-anchor="start" fill="#000" font-weight="bold">(d)</text>
</svg></body></html>
